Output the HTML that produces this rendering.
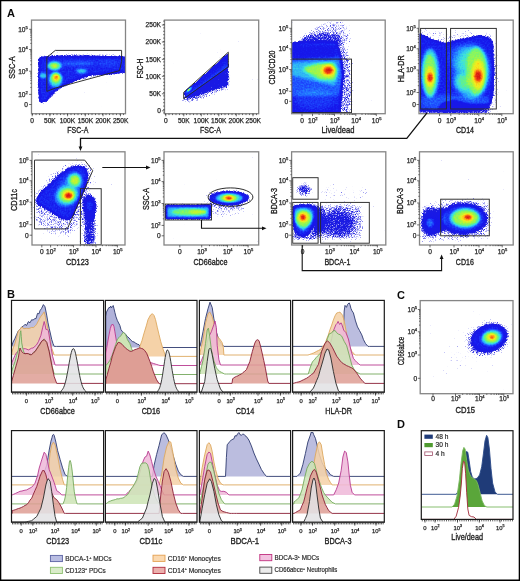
<!DOCTYPE html>
<html><head><meta charset="utf-8"><title>Figure</title>
<style>
html,body{margin:0;padding:0;background:#fff;}
body{width:520px;height:581px;overflow:hidden;}
svg{display:block;font-family:"Liberation Sans", sans-serif;will-change:transform;}
</style></head><body>
<svg width="520" height="581" viewBox="0 0 520 581">
<defs><radialGradient id="gg"><stop offset="0" stop-color="#fff" stop-opacity="1"/><stop offset="0.2" stop-color="#fff" stop-opacity="0.887"/><stop offset="0.4" stop-color="#fff" stop-opacity="0.62"/><stop offset="0.6" stop-color="#fff" stop-opacity="0.34"/><stop offset="0.8" stop-color="#fff" stop-opacity="0.14"/><stop offset="1" stop-color="#fff" stop-opacity="0"/></radialGradient><filter id="pc0" x="0" y="0" width="520" height="581" filterUnits="userSpaceOnUse" color-interpolation-filters="sRGB">
<feColorMatrix in="SourceGraphic" type="matrix" values="0 0 0 1 0 0 0 0 1 0 0 0 0 1 0 0 0 0 0 1" result="d0"/>
<feTurbulence type="fractalNoise" baseFrequency="0.63" numOctaves="1" seed="13" result="cz"/>
<feColorMatrix in="cz" type="matrix" values="1 0 0 0 0 1 0 0 0 0 1 0 0 0 0 0 0 0 0 1" result="cn"/>
<feComposite in="d0" in2="cn" operator="arithmetic" k1="0" k2="1" k3="0.12" k4="-0.06" result="d"/>
<feComponentTransfer in="d" result="col"><feFuncR type="table" tableValues="0.118 0.114 0.110 0.107 0.103 0.099 0.096 0.092 0.088 0.090 0.098 0.106 0.114 0.122 0.131 0.139 0.148 0.157 0.173 0.188 0.204 0.220 0.235 0.275 0.314 0.353 0.392 0.431 0.494 0.557 0.620 0.682 0.745 0.788 0.831 0.875 0.918 0.961 0.969 0.976 0.984 0.992 1.000 0.990 0.980 0.971 0.961 0.931 0.902 0.873 0.843"/><feFuncG type="table" tableValues="0.118 0.114 0.110 0.107 0.103 0.099 0.096 0.092 0.088 0.112 0.164 0.216 0.268 0.331 0.405 0.479 0.553 0.627 0.678 0.729 0.780 0.831 0.882 0.898 0.914 0.929 0.945 0.961 0.961 0.961 0.961 0.961 0.961 0.953 0.945 0.937 0.929 0.922 0.863 0.804 0.745 0.686 0.627 0.549 0.471 0.392 0.314 0.260 0.206 0.152 0.098"/><feFuncB type="table" tableValues="0.863 0.870 0.878 0.885 0.892 0.900 0.907 0.914 0.922 0.935 0.953 0.972 0.991 1.000 1.000 1.000 1.000 1.000 0.976 0.953 0.929 0.906 0.882 0.800 0.718 0.635 0.553 0.471 0.416 0.361 0.306 0.251 0.196 0.180 0.165 0.149 0.133 0.118 0.110 0.102 0.094 0.086 0.078 0.078 0.078 0.078 0.078 0.078 0.078 0.078 0.078"/></feComponentTransfer>
<feTurbulence type="fractalNoise" baseFrequency="1.37" numOctaves="1" seed="8" result="nz"/>
<feColorMatrix in="nz" type="matrix" values="0 0 0 0 0 0 0 0 0 0 0 0 0 0 0 1 0 0 0 0" result="na"/>
<feComposite in="SourceAlpha" in2="na" operator="arithmetic" k1="0" k2="14.0" k3="1.6" k4="-1.0" result="m"/>
<feComponentTransfer in="m" result="mask"><feFuncA type="table" tableValues="0 0 0.55 1 1"/></feComponentTransfer>
<feComposite in="col" in2="mask" operator="in"/>
</filter><clipPath id="c0"><rect x="31.5" y="20.1" width="94.0" height="93.6"/></clipPath><filter id="b0" x="-50%" y="-50%" width="200%" height="200%"><feGaussianBlur stdDeviation="1.5"/></filter><filter id="b1" x="-50%" y="-50%" width="200%" height="200%"><feGaussianBlur stdDeviation="0.8"/></filter><filter id="b2" x="-50%" y="-50%" width="200%" height="200%"><feGaussianBlur stdDeviation="2"/></filter><filter id="b3" x="-50%" y="-50%" width="200%" height="200%"><feGaussianBlur stdDeviation="1.0"/></filter><filter id="b4" x="-50%" y="-50%" width="200%" height="200%"><feGaussianBlur stdDeviation="1.1"/></filter><filter id="pc1" x="0" y="0" width="520" height="581" filterUnits="userSpaceOnUse" color-interpolation-filters="sRGB">
<feColorMatrix in="SourceGraphic" type="matrix" values="0 0 0 1 0 0 0 0 1 0 0 0 0 1 0 0 0 0 0 1" result="d0"/>
<feTurbulence type="fractalNoise" baseFrequency="0.63" numOctaves="1" seed="20" result="cz"/>
<feColorMatrix in="cz" type="matrix" values="1 0 0 0 0 1 0 0 0 0 1 0 0 0 0 0 0 0 0 1" result="cn"/>
<feComposite in="d0" in2="cn" operator="arithmetic" k1="0" k2="1" k3="0.12" k4="-0.06" result="d"/>
<feComponentTransfer in="d" result="col"><feFuncR type="table" tableValues="0.118 0.114 0.110 0.107 0.103 0.099 0.096 0.092 0.088 0.090 0.098 0.106 0.114 0.122 0.131 0.139 0.148 0.157 0.173 0.188 0.204 0.220 0.235 0.275 0.314 0.353 0.392 0.431 0.494 0.557 0.620 0.682 0.745 0.788 0.831 0.875 0.918 0.961 0.969 0.976 0.984 0.992 1.000 0.990 0.980 0.971 0.961 0.931 0.902 0.873 0.843"/><feFuncG type="table" tableValues="0.118 0.114 0.110 0.107 0.103 0.099 0.096 0.092 0.088 0.112 0.164 0.216 0.268 0.331 0.405 0.479 0.553 0.627 0.678 0.729 0.780 0.831 0.882 0.898 0.914 0.929 0.945 0.961 0.961 0.961 0.961 0.961 0.961 0.953 0.945 0.937 0.929 0.922 0.863 0.804 0.745 0.686 0.627 0.549 0.471 0.392 0.314 0.260 0.206 0.152 0.098"/><feFuncB type="table" tableValues="0.863 0.870 0.878 0.885 0.892 0.900 0.907 0.914 0.922 0.935 0.953 0.972 0.991 1.000 1.000 1.000 1.000 1.000 0.976 0.953 0.929 0.906 0.882 0.800 0.718 0.635 0.553 0.471 0.416 0.361 0.306 0.251 0.196 0.180 0.165 0.149 0.133 0.118 0.110 0.102 0.094 0.086 0.078 0.078 0.078 0.078 0.078 0.078 0.078 0.078 0.078"/></feComponentTransfer>
<feTurbulence type="fractalNoise" baseFrequency="1.37" numOctaves="1" seed="15" result="nz"/>
<feColorMatrix in="nz" type="matrix" values="0 0 0 0 0 0 0 0 0 0 0 0 0 0 0 1 0 0 0 0" result="na"/>
<feComposite in="SourceAlpha" in2="na" operator="arithmetic" k1="0" k2="14.0" k3="1.6" k4="-1.0" result="m"/>
<feComponentTransfer in="m" result="mask"><feFuncA type="table" tableValues="0 0 0.55 1 1"/></feComponentTransfer>
<feComposite in="col" in2="mask" operator="in"/>
</filter><clipPath id="c1"><rect x="164.5" y="20.1" width="94.19999999999999" height="93.6"/></clipPath><filter id="b5" x="-50%" y="-50%" width="200%" height="200%"><feGaussianBlur stdDeviation="1.2"/></filter><filter id="b6" x="-50%" y="-50%" width="200%" height="200%"><feGaussianBlur stdDeviation="0.6"/></filter><filter id="pc2" x="0" y="0" width="520" height="581" filterUnits="userSpaceOnUse" color-interpolation-filters="sRGB">
<feColorMatrix in="SourceGraphic" type="matrix" values="0 0 0 1 0 0 0 0 1 0 0 0 0 1 0 0 0 0 0 1" result="d0"/>
<feTurbulence type="fractalNoise" baseFrequency="0.63" numOctaves="1" seed="27" result="cz"/>
<feColorMatrix in="cz" type="matrix" values="1 0 0 0 0 1 0 0 0 0 1 0 0 0 0 0 0 0 0 1" result="cn"/>
<feComposite in="d0" in2="cn" operator="arithmetic" k1="0" k2="1" k3="0.12" k4="-0.06" result="d"/>
<feComponentTransfer in="d" result="col"><feFuncR type="table" tableValues="0.118 0.114 0.110 0.107 0.103 0.099 0.096 0.092 0.088 0.090 0.098 0.106 0.114 0.122 0.131 0.139 0.148 0.157 0.173 0.188 0.204 0.220 0.235 0.275 0.314 0.353 0.392 0.431 0.494 0.557 0.620 0.682 0.745 0.788 0.831 0.875 0.918 0.961 0.969 0.976 0.984 0.992 1.000 0.990 0.980 0.971 0.961 0.931 0.902 0.873 0.843"/><feFuncG type="table" tableValues="0.118 0.114 0.110 0.107 0.103 0.099 0.096 0.092 0.088 0.112 0.164 0.216 0.268 0.331 0.405 0.479 0.553 0.627 0.678 0.729 0.780 0.831 0.882 0.898 0.914 0.929 0.945 0.961 0.961 0.961 0.961 0.961 0.961 0.953 0.945 0.937 0.929 0.922 0.863 0.804 0.745 0.686 0.627 0.549 0.471 0.392 0.314 0.260 0.206 0.152 0.098"/><feFuncB type="table" tableValues="0.863 0.870 0.878 0.885 0.892 0.900 0.907 0.914 0.922 0.935 0.953 0.972 0.991 1.000 1.000 1.000 1.000 1.000 0.976 0.953 0.929 0.906 0.882 0.800 0.718 0.635 0.553 0.471 0.416 0.361 0.306 0.251 0.196 0.180 0.165 0.149 0.133 0.118 0.110 0.102 0.094 0.086 0.078 0.078 0.078 0.078 0.078 0.078 0.078 0.078 0.078"/></feComponentTransfer>
<feTurbulence type="fractalNoise" baseFrequency="1.37" numOctaves="1" seed="22" result="nz"/>
<feColorMatrix in="nz" type="matrix" values="0 0 0 0 0 0 0 0 0 0 0 0 0 0 0 1 0 0 0 0" result="na"/>
<feComposite in="SourceAlpha" in2="na" operator="arithmetic" k1="0" k2="14.0" k3="1.6" k4="-1.0" result="m"/>
<feComponentTransfer in="m" result="mask"><feFuncA type="table" tableValues="0 0 0.55 1 1"/></feComponentTransfer>
<feComposite in="col" in2="mask" operator="in"/>
</filter><clipPath id="c2"><rect x="291.6" y="20.1" width="93.59999999999997" height="93.6"/></clipPath><filter id="b7" x="-50%" y="-50%" width="200%" height="200%"><feGaussianBlur stdDeviation="2.5"/></filter><filter id="b8" x="-50%" y="-50%" width="200%" height="200%"><feGaussianBlur stdDeviation="3"/></filter><filter id="pc3" x="0" y="0" width="520" height="581" filterUnits="userSpaceOnUse" color-interpolation-filters="sRGB">
<feColorMatrix in="SourceGraphic" type="matrix" values="0 0 0 1 0 0 0 0 1 0 0 0 0 1 0 0 0 0 0 1" result="d0"/>
<feTurbulence type="fractalNoise" baseFrequency="0.63" numOctaves="1" seed="34" result="cz"/>
<feColorMatrix in="cz" type="matrix" values="1 0 0 0 0 1 0 0 0 0 1 0 0 0 0 0 0 0 0 1" result="cn"/>
<feComposite in="d0" in2="cn" operator="arithmetic" k1="0" k2="1" k3="0.12" k4="-0.06" result="d"/>
<feComponentTransfer in="d" result="col"><feFuncR type="table" tableValues="0.118 0.114 0.110 0.107 0.103 0.099 0.096 0.092 0.088 0.090 0.098 0.106 0.114 0.122 0.131 0.139 0.148 0.157 0.173 0.188 0.204 0.220 0.235 0.275 0.314 0.353 0.392 0.431 0.494 0.557 0.620 0.682 0.745 0.788 0.831 0.875 0.918 0.961 0.969 0.976 0.984 0.992 1.000 0.990 0.980 0.971 0.961 0.931 0.902 0.873 0.843"/><feFuncG type="table" tableValues="0.118 0.114 0.110 0.107 0.103 0.099 0.096 0.092 0.088 0.112 0.164 0.216 0.268 0.331 0.405 0.479 0.553 0.627 0.678 0.729 0.780 0.831 0.882 0.898 0.914 0.929 0.945 0.961 0.961 0.961 0.961 0.961 0.961 0.953 0.945 0.937 0.929 0.922 0.863 0.804 0.745 0.686 0.627 0.549 0.471 0.392 0.314 0.260 0.206 0.152 0.098"/><feFuncB type="table" tableValues="0.863 0.870 0.878 0.885 0.892 0.900 0.907 0.914 0.922 0.935 0.953 0.972 0.991 1.000 1.000 1.000 1.000 1.000 0.976 0.953 0.929 0.906 0.882 0.800 0.718 0.635 0.553 0.471 0.416 0.361 0.306 0.251 0.196 0.180 0.165 0.149 0.133 0.118 0.110 0.102 0.094 0.086 0.078 0.078 0.078 0.078 0.078 0.078 0.078 0.078 0.078"/></feComponentTransfer>
<feTurbulence type="fractalNoise" baseFrequency="1.37" numOctaves="1" seed="29" result="nz"/>
<feColorMatrix in="nz" type="matrix" values="0 0 0 0 0 0 0 0 0 0 0 0 0 0 0 1 0 0 0 0" result="na"/>
<feComposite in="SourceAlpha" in2="na" operator="arithmetic" k1="0" k2="14.0" k3="1.6" k4="-1.0" result="m"/>
<feComponentTransfer in="m" result="mask"><feFuncA type="table" tableValues="0 0 0.55 1 1"/></feComponentTransfer>
<feComposite in="col" in2="mask" operator="in"/>
</filter><clipPath id="c3"><rect x="419.0" y="20.1" width="94.20000000000005" height="93.6"/></clipPath><filter id="pc4" x="0" y="0" width="520" height="581" filterUnits="userSpaceOnUse" color-interpolation-filters="sRGB">
<feColorMatrix in="SourceGraphic" type="matrix" values="0 0 0 1 0 0 0 0 1 0 0 0 0 1 0 0 0 0 0 1" result="d0"/>
<feTurbulence type="fractalNoise" baseFrequency="0.63" numOctaves="1" seed="41" result="cz"/>
<feColorMatrix in="cz" type="matrix" values="1 0 0 0 0 1 0 0 0 0 1 0 0 0 0 0 0 0 0 1" result="cn"/>
<feComposite in="d0" in2="cn" operator="arithmetic" k1="0" k2="1" k3="0.12" k4="-0.06" result="d"/>
<feComponentTransfer in="d" result="col"><feFuncR type="table" tableValues="0.118 0.114 0.110 0.107 0.103 0.099 0.096 0.092 0.088 0.090 0.098 0.106 0.114 0.122 0.131 0.139 0.148 0.157 0.173 0.188 0.204 0.220 0.235 0.275 0.314 0.353 0.392 0.431 0.494 0.557 0.620 0.682 0.745 0.788 0.831 0.875 0.918 0.961 0.969 0.976 0.984 0.992 1.000 0.990 0.980 0.971 0.961 0.931 0.902 0.873 0.843"/><feFuncG type="table" tableValues="0.118 0.114 0.110 0.107 0.103 0.099 0.096 0.092 0.088 0.112 0.164 0.216 0.268 0.331 0.405 0.479 0.553 0.627 0.678 0.729 0.780 0.831 0.882 0.898 0.914 0.929 0.945 0.961 0.961 0.961 0.961 0.961 0.961 0.953 0.945 0.937 0.929 0.922 0.863 0.804 0.745 0.686 0.627 0.549 0.471 0.392 0.314 0.260 0.206 0.152 0.098"/><feFuncB type="table" tableValues="0.863 0.870 0.878 0.885 0.892 0.900 0.907 0.914 0.922 0.935 0.953 0.972 0.991 1.000 1.000 1.000 1.000 1.000 0.976 0.953 0.929 0.906 0.882 0.800 0.718 0.635 0.553 0.471 0.416 0.361 0.306 0.251 0.196 0.180 0.165 0.149 0.133 0.118 0.110 0.102 0.094 0.086 0.078 0.078 0.078 0.078 0.078 0.078 0.078 0.078 0.078"/></feComponentTransfer>
<feTurbulence type="fractalNoise" baseFrequency="1.37" numOctaves="1" seed="36" result="nz"/>
<feColorMatrix in="nz" type="matrix" values="0 0 0 0 0 0 0 0 0 0 0 0 0 0 0 1 0 0 0 0" result="na"/>
<feComposite in="SourceAlpha" in2="na" operator="arithmetic" k1="0" k2="14.0" k3="1.6" k4="-1.0" result="m"/>
<feComponentTransfer in="m" result="mask"><feFuncA type="table" tableValues="0 0 0.55 1 1"/></feComponentTransfer>
<feComposite in="col" in2="mask" operator="in"/>
</filter><clipPath id="c4"><rect x="32.0" y="151.8" width="93.0" height="93.19999999999999"/></clipPath><filter id="pc5" x="0" y="0" width="520" height="581" filterUnits="userSpaceOnUse" color-interpolation-filters="sRGB">
<feColorMatrix in="SourceGraphic" type="matrix" values="0 0 0 1 0 0 0 0 1 0 0 0 0 1 0 0 0 0 0 1" result="d0"/>
<feTurbulence type="fractalNoise" baseFrequency="0.63" numOctaves="1" seed="48" result="cz"/>
<feColorMatrix in="cz" type="matrix" values="1 0 0 0 0 1 0 0 0 0 1 0 0 0 0 0 0 0 0 1" result="cn"/>
<feComposite in="d0" in2="cn" operator="arithmetic" k1="0" k2="1" k3="0.12" k4="-0.06" result="d"/>
<feComponentTransfer in="d" result="col"><feFuncR type="table" tableValues="0.118 0.114 0.110 0.107 0.103 0.099 0.096 0.092 0.088 0.090 0.098 0.106 0.114 0.122 0.131 0.139 0.148 0.157 0.173 0.188 0.204 0.220 0.235 0.275 0.314 0.353 0.392 0.431 0.494 0.557 0.620 0.682 0.745 0.788 0.831 0.875 0.918 0.961 0.969 0.976 0.984 0.992 1.000 0.990 0.980 0.971 0.961 0.931 0.902 0.873 0.843"/><feFuncG type="table" tableValues="0.118 0.114 0.110 0.107 0.103 0.099 0.096 0.092 0.088 0.112 0.164 0.216 0.268 0.331 0.405 0.479 0.553 0.627 0.678 0.729 0.780 0.831 0.882 0.898 0.914 0.929 0.945 0.961 0.961 0.961 0.961 0.961 0.961 0.953 0.945 0.937 0.929 0.922 0.863 0.804 0.745 0.686 0.627 0.549 0.471 0.392 0.314 0.260 0.206 0.152 0.098"/><feFuncB type="table" tableValues="0.863 0.870 0.878 0.885 0.892 0.900 0.907 0.914 0.922 0.935 0.953 0.972 0.991 1.000 1.000 1.000 1.000 1.000 0.976 0.953 0.929 0.906 0.882 0.800 0.718 0.635 0.553 0.471 0.416 0.361 0.306 0.251 0.196 0.180 0.165 0.149 0.133 0.118 0.110 0.102 0.094 0.086 0.078 0.078 0.078 0.078 0.078 0.078 0.078 0.078 0.078"/></feComponentTransfer>
<feTurbulence type="fractalNoise" baseFrequency="1.37" numOctaves="1" seed="43" result="nz"/>
<feColorMatrix in="nz" type="matrix" values="0 0 0 0 0 0 0 0 0 0 0 0 0 0 0 1 0 0 0 0" result="na"/>
<feComposite in="SourceAlpha" in2="na" operator="arithmetic" k1="0" k2="14.0" k3="1.6" k4="-1.0" result="m"/>
<feComponentTransfer in="m" result="mask"><feFuncA type="table" tableValues="0 0 0.55 1 1"/></feComponentTransfer>
<feComposite in="col" in2="mask" operator="in"/>
</filter><clipPath id="c5"><rect x="164.0" y="151.8" width="94.69999999999999" height="93.19999999999999"/></clipPath><filter id="pc6" x="0" y="0" width="520" height="581" filterUnits="userSpaceOnUse" color-interpolation-filters="sRGB">
<feColorMatrix in="SourceGraphic" type="matrix" values="0 0 0 1 0 0 0 0 1 0 0 0 0 1 0 0 0 0 0 1" result="d0"/>
<feTurbulence type="fractalNoise" baseFrequency="0.63" numOctaves="1" seed="55" result="cz"/>
<feColorMatrix in="cz" type="matrix" values="1 0 0 0 0 1 0 0 0 0 1 0 0 0 0 0 0 0 0 1" result="cn"/>
<feComposite in="d0" in2="cn" operator="arithmetic" k1="0" k2="1" k3="0.12" k4="-0.06" result="d"/>
<feComponentTransfer in="d" result="col"><feFuncR type="table" tableValues="0.118 0.114 0.110 0.107 0.103 0.099 0.096 0.092 0.088 0.090 0.098 0.106 0.114 0.122 0.131 0.139 0.148 0.157 0.173 0.188 0.204 0.220 0.235 0.275 0.314 0.353 0.392 0.431 0.494 0.557 0.620 0.682 0.745 0.788 0.831 0.875 0.918 0.961 0.969 0.976 0.984 0.992 1.000 0.990 0.980 0.971 0.961 0.931 0.902 0.873 0.843"/><feFuncG type="table" tableValues="0.118 0.114 0.110 0.107 0.103 0.099 0.096 0.092 0.088 0.112 0.164 0.216 0.268 0.331 0.405 0.479 0.553 0.627 0.678 0.729 0.780 0.831 0.882 0.898 0.914 0.929 0.945 0.961 0.961 0.961 0.961 0.961 0.961 0.953 0.945 0.937 0.929 0.922 0.863 0.804 0.745 0.686 0.627 0.549 0.471 0.392 0.314 0.260 0.206 0.152 0.098"/><feFuncB type="table" tableValues="0.863 0.870 0.878 0.885 0.892 0.900 0.907 0.914 0.922 0.935 0.953 0.972 0.991 1.000 1.000 1.000 1.000 1.000 0.976 0.953 0.929 0.906 0.882 0.800 0.718 0.635 0.553 0.471 0.416 0.361 0.306 0.251 0.196 0.180 0.165 0.149 0.133 0.118 0.110 0.102 0.094 0.086 0.078 0.078 0.078 0.078 0.078 0.078 0.078 0.078 0.078"/></feComponentTransfer>
<feTurbulence type="fractalNoise" baseFrequency="1.37" numOctaves="1" seed="50" result="nz"/>
<feColorMatrix in="nz" type="matrix" values="0 0 0 0 0 0 0 0 0 0 0 0 0 0 0 1 0 0 0 0" result="na"/>
<feComposite in="SourceAlpha" in2="na" operator="arithmetic" k1="0" k2="14.0" k3="1.6" k4="-1.0" result="m"/>
<feComponentTransfer in="m" result="mask"><feFuncA type="table" tableValues="0 0 0.55 1 1"/></feComponentTransfer>
<feComposite in="col" in2="mask" operator="in"/>
</filter><clipPath id="c6"><rect x="291.6" y="151.8" width="94.19999999999999" height="93.19999999999999"/></clipPath><filter id="pc7" x="0" y="0" width="520" height="581" filterUnits="userSpaceOnUse" color-interpolation-filters="sRGB">
<feColorMatrix in="SourceGraphic" type="matrix" values="0 0 0 1 0 0 0 0 1 0 0 0 0 1 0 0 0 0 0 1" result="d0"/>
<feTurbulence type="fractalNoise" baseFrequency="0.63" numOctaves="1" seed="62" result="cz"/>
<feColorMatrix in="cz" type="matrix" values="1 0 0 0 0 1 0 0 0 0 1 0 0 0 0 0 0 0 0 1" result="cn"/>
<feComposite in="d0" in2="cn" operator="arithmetic" k1="0" k2="1" k3="0.12" k4="-0.06" result="d"/>
<feComponentTransfer in="d" result="col"><feFuncR type="table" tableValues="0.118 0.114 0.110 0.107 0.103 0.099 0.096 0.092 0.088 0.090 0.098 0.106 0.114 0.122 0.131 0.139 0.148 0.157 0.173 0.188 0.204 0.220 0.235 0.275 0.314 0.353 0.392 0.431 0.494 0.557 0.620 0.682 0.745 0.788 0.831 0.875 0.918 0.961 0.969 0.976 0.984 0.992 1.000 0.990 0.980 0.971 0.961 0.931 0.902 0.873 0.843"/><feFuncG type="table" tableValues="0.118 0.114 0.110 0.107 0.103 0.099 0.096 0.092 0.088 0.112 0.164 0.216 0.268 0.331 0.405 0.479 0.553 0.627 0.678 0.729 0.780 0.831 0.882 0.898 0.914 0.929 0.945 0.961 0.961 0.961 0.961 0.961 0.961 0.953 0.945 0.937 0.929 0.922 0.863 0.804 0.745 0.686 0.627 0.549 0.471 0.392 0.314 0.260 0.206 0.152 0.098"/><feFuncB type="table" tableValues="0.863 0.870 0.878 0.885 0.892 0.900 0.907 0.914 0.922 0.935 0.953 0.972 0.991 1.000 1.000 1.000 1.000 1.000 0.976 0.953 0.929 0.906 0.882 0.800 0.718 0.635 0.553 0.471 0.416 0.361 0.306 0.251 0.196 0.180 0.165 0.149 0.133 0.118 0.110 0.102 0.094 0.086 0.078 0.078 0.078 0.078 0.078 0.078 0.078 0.078 0.078"/></feComponentTransfer>
<feTurbulence type="fractalNoise" baseFrequency="1.37" numOctaves="1" seed="57" result="nz"/>
<feColorMatrix in="nz" type="matrix" values="0 0 0 0 0 0 0 0 0 0 0 0 0 0 0 1 0 0 0 0" result="na"/>
<feComposite in="SourceAlpha" in2="na" operator="arithmetic" k1="0" k2="14.0" k3="1.6" k4="-1.0" result="m"/>
<feComponentTransfer in="m" result="mask"><feFuncA type="table" tableValues="0 0 0.55 1 1"/></feComponentTransfer>
<feComposite in="col" in2="mask" operator="in"/>
</filter><clipPath id="c7"><rect x="419.5" y="151.8" width="93.70000000000005" height="93.19999999999999"/></clipPath><filter id="b9" x="-50%" y="-50%" width="200%" height="200%"><feGaussianBlur stdDeviation="1.3"/></filter><filter id="pc8" x="0" y="0" width="520" height="581" filterUnits="userSpaceOnUse" color-interpolation-filters="sRGB">
<feColorMatrix in="SourceGraphic" type="matrix" values="0 0 0 1 0 0 0 0 1 0 0 0 0 1 0 0 0 0 0 1" result="d0"/>
<feTurbulence type="fractalNoise" baseFrequency="0.63" numOctaves="1" seed="69" result="cz"/>
<feColorMatrix in="cz" type="matrix" values="1 0 0 0 0 1 0 0 0 0 1 0 0 0 0 0 0 0 0 1" result="cn"/>
<feComposite in="d0" in2="cn" operator="arithmetic" k1="0" k2="1" k3="0.12" k4="-0.06" result="d"/>
<feComponentTransfer in="d" result="col"><feFuncR type="table" tableValues="0.118 0.114 0.110 0.107 0.103 0.099 0.096 0.092 0.088 0.090 0.098 0.106 0.114 0.122 0.131 0.139 0.148 0.157 0.173 0.188 0.204 0.220 0.235 0.275 0.314 0.353 0.392 0.431 0.494 0.557 0.620 0.682 0.745 0.788 0.831 0.875 0.918 0.961 0.969 0.976 0.984 0.992 1.000 0.990 0.980 0.971 0.961 0.931 0.902 0.873 0.843"/><feFuncG type="table" tableValues="0.118 0.114 0.110 0.107 0.103 0.099 0.096 0.092 0.088 0.112 0.164 0.216 0.268 0.331 0.405 0.479 0.553 0.627 0.678 0.729 0.780 0.831 0.882 0.898 0.914 0.929 0.945 0.961 0.961 0.961 0.961 0.961 0.961 0.953 0.945 0.937 0.929 0.922 0.863 0.804 0.745 0.686 0.627 0.549 0.471 0.392 0.314 0.260 0.206 0.152 0.098"/><feFuncB type="table" tableValues="0.863 0.870 0.878 0.885 0.892 0.900 0.907 0.914 0.922 0.935 0.953 0.972 0.991 1.000 1.000 1.000 1.000 1.000 0.976 0.953 0.929 0.906 0.882 0.800 0.718 0.635 0.553 0.471 0.416 0.361 0.306 0.251 0.196 0.180 0.165 0.149 0.133 0.118 0.110 0.102 0.094 0.086 0.078 0.078 0.078 0.078 0.078 0.078 0.078 0.078 0.078"/></feComponentTransfer>
<feTurbulence type="fractalNoise" baseFrequency="1.37" numOctaves="1" seed="64" result="nz"/>
<feColorMatrix in="nz" type="matrix" values="0 0 0 0 0 0 0 0 0 0 0 0 0 0 0 1 0 0 0 0" result="na"/>
<feComposite in="SourceAlpha" in2="na" operator="arithmetic" k1="0" k2="14.0" k3="1.6" k4="-1.0" result="m"/>
<feComponentTransfer in="m" result="mask"><feFuncA type="table" tableValues="0 0 0.55 1 1"/></feComponentTransfer>
<feComposite in="col" in2="mask" operator="in"/>
</filter><clipPath id="c8"><rect x="420.2" y="300.6" width="92.80000000000001" height="93.09999999999997"/></clipPath><filter id="b10" x="-50%" y="-50%" width="200%" height="200%"><feGaussianBlur stdDeviation="4"/></filter><clipPath id="c9"><rect x="11.5" y="300.4" width="92.1" height="92.30000000000001"/></clipPath><clipPath id="c10"><rect x="105.4" y="300.4" width="91.6" height="92.30000000000001"/></clipPath><clipPath id="c11"><rect x="199.4" y="300.4" width="91.20000000000002" height="92.30000000000001"/></clipPath><clipPath id="c12"><rect x="292.6" y="300.4" width="91.69999999999999" height="92.30000000000001"/></clipPath><clipPath id="c13"><rect x="11.5" y="430.6" width="92.1" height="92.10000000000002"/></clipPath><clipPath id="c14"><rect x="105.4" y="430.6" width="91.6" height="92.10000000000002"/></clipPath><clipPath id="c15"><rect x="199.4" y="430.6" width="91.20000000000002" height="92.10000000000002"/></clipPath><clipPath id="c16"><rect x="292.6" y="430.6" width="91.69999999999999" height="92.10000000000002"/></clipPath><clipPath id="c17"><rect x="421.3" y="430.7" width="91.69999999999999" height="89.69999999999999"/></clipPath></defs>
<rect width="520" height="581" fill="#fff"/>
<text x="7.0" y="17.2" font-size="11.0" text-anchor="start" font-weight="bold" fill="#0a0a0a">A</text>
<g clip-path="url(#c0)"><g filter="url(#pc0)">
<path d="M38.0,56.0 L60.0,53.5 L100.0,54.0 L127.0,55.0 L127.0,74.0 L100.0,76.5 L80.0,80.0 L60.0,90.0 L50.0,99.0 L44.0,104.0 L38.0,104.0 Z" fill="#fff" opacity="0.035" filter="url(#b0)"/>
<path d="M39.5,58.0 L50.0,57.0 L70.0,56.5 L100.0,57.0 L126.0,57.5 L126.0,71.5 L110.0,73.5 L100.0,74.0 L92.0,74.0 L75.0,80.0 L60.0,87.0 L55.0,91.0 L50.0,96.0 L46.0,101.0 L40.0,101.5 L39.0,90.0 Z" fill="#fff" opacity="0.160" filter="url(#b1)"/>
<ellipse cx="78.0" cy="63.5" rx="17.0" ry="2.3" fill="#fff" opacity="0.100" filter="url(#b0)"/>
<ellipse cx="108.0" cy="63.0" rx="12.0" ry="3.0" fill="#fff" opacity="0.060" filter="url(#b2)"/>
<ellipse cx="43.0" cy="75.6" rx="3.8" ry="2.6" fill="#fff" opacity="0.262" filter="url(#b3)"/>
<ellipse cx="81.6" cy="71.0" rx="5.5" ry="2.2" fill="#fff" opacity="0.262" filter="url(#b3)"/>
<ellipse cx="54.5" cy="65.8" rx="7.5" ry="4.6" fill="#fff" opacity="0.262" filter="url(#b4)"/>
<ellipse cx="54.5" cy="65.8" rx="5.0" ry="3.1" fill="#fff" opacity="0.290" filter="url(#b4)"/>
<ellipse cx="54.5" cy="66.0" rx="2.6" ry="1.7" fill="#fff" opacity="0.205" filter="url(#b4)"/>
<ellipse cx="55.6" cy="79.5" rx="6.8" ry="7.8" fill="#fff" opacity="0.262" filter="url(#b3)"/>
<ellipse cx="55.9" cy="78.3" rx="5.0" ry="5.3" fill="#fff" opacity="0.290" filter="url(#b3)"/>
<ellipse cx="56.2" cy="77.6" rx="3.2" ry="3.2" fill="#fff" opacity="0.409" filter="url(#b3)"/>
<ellipse cx="56.2" cy="77.4" rx="1.4" ry="1.4" fill="#fff" opacity="1.000" filter="url(#b3)"/>
</g></g>
<path d="M46.8,91.4 L46.8,57.4 L55.3,50.4 L121.6,50.4 L121.6,61.5 L119.5,70.6 L55.3,88.1 Z" fill="none" stroke="#2a2a2a" stroke-width="0.95"/>
<rect x="31.50" y="20.10" width="94.00" height="93.60" fill="none" stroke="#858585" stroke-width="1.3"/>
<path d="M31.5,29.3h-2.4M31.5,49.5h-2.4M31.5,71.2h-2.4M31.5,94.4h-2.4M31.5,104.5h-2.4M31.5,87.4h-1.2M31.5,83.3h-1.2M31.5,80.4h-1.2M31.5,78.2h-1.2M31.5,76.3h-1.2M31.5,74.8h-1.2M31.5,73.4h-1.2M31.5,72.3h-1.2M31.5,64.7h-1.2M31.5,60.8h-1.2M31.5,58.1h-1.2M31.5,56.0h-1.2M31.5,54.3h-1.2M31.5,52.9h-1.2M31.5,51.6h-1.2M31.5,50.5h-1.2M31.5,43.4h-1.2M31.5,39.9h-1.2M31.5,37.3h-1.2M31.5,35.4h-1.2M31.5,33.8h-1.2M31.5,32.4h-1.2M31.5,31.3h-1.2M31.5,30.2h-1.2" stroke="#333" stroke-width="0.7" fill="none"/>
<path d="M32.2,113.7v2.6M49.9,113.7v2.6M67.6,113.7v2.6M85.3,113.7v2.6M103.0,113.7v2.6M120.5,113.7v2.6M32.5,113.7v1.4M36.0,113.7v1.4M39.5,113.7v1.4M43.0,113.7v1.4M46.5,113.7v1.4M50.0,113.7v1.4M53.5,113.7v1.4M57.0,113.7v1.4M60.5,113.7v1.4M64.0,113.7v1.4M67.5,113.7v1.4M71.0,113.7v1.4M74.5,113.7v1.4M78.0,113.7v1.4M81.5,113.7v1.4M85.0,113.7v1.4M88.5,113.7v1.4M92.0,113.7v1.4M95.5,113.7v1.4M99.0,113.7v1.4M102.5,113.7v1.4M106.0,113.7v1.4M109.5,113.7v1.4M113.0,113.7v1.4M116.5,113.7v1.4M120.0,113.7v1.4M123.5,113.7v1.4" stroke="#333" stroke-width="0.7" fill="none"/>
<text x="18.2" y="31.7" font-size="6.6" fill="#262626" stroke="#262626" stroke-width="0.25">10<tspan font-size="4.1" dy="-3.0">5</tspan></text>
<text x="18.2" y="51.9" font-size="6.6" fill="#262626" stroke="#262626" stroke-width="0.25">10<tspan font-size="4.1" dy="-3.0">4</tspan></text>
<text x="18.2" y="73.6" font-size="6.6" fill="#262626" stroke="#262626" stroke-width="0.25">10<tspan font-size="4.1" dy="-3.0">3</tspan></text>
<text x="18.2" y="96.8" font-size="6.6" fill="#262626" stroke="#262626" stroke-width="0.25">10<tspan font-size="4.1" dy="-3.0">2</tspan></text>
<text x="27.8" y="106.9" font-size="6.6" text-anchor="end" font-weight="normal" fill="#262626" stroke="#262626" stroke-width="0.25">0</text>
<text x="32.2" y="122.9" font-size="6.6" text-anchor="middle" font-weight="normal" fill="#262626" stroke="#262626" stroke-width="0.25">0</text>
<text x="49.9" y="122.9" font-size="6.6" text-anchor="middle" font-weight="normal" fill="#262626" stroke="#262626" stroke-width="0.25">50K</text>
<text x="67.4" y="122.9" font-size="6.6" text-anchor="middle" font-weight="normal" fill="#262626" stroke="#262626" stroke-width="0.25">100K</text>
<text x="85.4" y="122.9" font-size="6.6" text-anchor="middle" font-weight="normal" fill="#262626" stroke="#262626" stroke-width="0.25">150K</text>
<text x="103.1" y="122.9" font-size="6.6" text-anchor="middle" font-weight="normal" fill="#262626" stroke="#262626" stroke-width="0.25">200K</text>
<text x="120.6" y="122.9" font-size="6.6" text-anchor="middle" font-weight="normal" fill="#262626" stroke="#262626" stroke-width="0.25">250K</text>
<text x="77.8" y="132.8" font-size="9.6" text-anchor="middle" font-weight="normal" fill="#1e1e1e" textLength="21.0" lengthAdjust="spacingAndGlyphs" stroke="#1e1e1e" stroke-width="0.35">FSC-A</text>
<text x="15.3" y="67.6" font-size="9.6" text-anchor="middle" font-weight="normal" fill="#1e1e1e" textLength="22.5" lengthAdjust="spacingAndGlyphs" transform="rotate(-90 15.3 67.6)" stroke="#1e1e1e" stroke-width="0.35">SSC-A</text>
<g clip-path="url(#c1)"><g filter="url(#pc1)">
<path d="M181.0,100.0 L186.0,93.0 L215.0,72.0 L228.0,60.0 L229.5,70.0 L229.5,89.0 L220.0,92.0 L205.0,98.0 L195.0,101.5 L186.0,103.0 Z" fill="#fff" opacity="0.040" filter="url(#b0)"/>
<path d="M184.0,97.0 L200.0,86.0 L228.0,64.0 L228.5,75.0 L228.0,86.0 L215.0,89.0 L200.0,95.0 L188.0,99.0 Z" fill="#fff" opacity="0.050" filter="url(#b5)"/>
<path d="M183.8,93.3 L227.6,53.8 L228.2,58.0 L228.2,66.5 L186.0,97.0 Z" fill="#fff" opacity="0.160" filter="url(#b6)"/>
<ellipse cx="189.0" cy="89.6" rx="5.5" ry="2.2" fill="url(#gg)" opacity="0.400" transform="rotate(-42 189.0 89.6)"/>
<ellipse cx="188.5" cy="90.0" rx="2.0" ry="1.2" fill="url(#gg)" opacity="0.350" transform="rotate(-42 188.5 90.0)"/>
</g></g>
<path d="M183.7,92.3 L228.3,52.2 L228.3,66.9 L183.7,98.8 Z" fill="none" stroke="#2a2a2a" stroke-width="0.95"/>
<rect x="164.50" y="20.10" width="94.20" height="93.60" fill="none" stroke="#858585" stroke-width="1.3"/>
<path d="M164.5,25.0h-2.6M164.5,42.0h-2.6M164.5,59.3h-2.6M164.5,76.3h-2.6M164.5,93.8h-2.6M164.5,110.8h-2.6M164.5,21.1h-1.4M164.5,24.5h-1.4M164.5,27.9h-1.4M164.5,31.3h-1.4M164.5,34.7h-1.4M164.5,38.1h-1.4M164.5,41.5h-1.4M164.5,44.9h-1.4M164.5,48.3h-1.4M164.5,51.7h-1.4M164.5,55.1h-1.4M164.5,58.5h-1.4M164.5,61.9h-1.4M164.5,65.3h-1.4M164.5,68.7h-1.4M164.5,72.1h-1.4M164.5,75.5h-1.4M164.5,78.9h-1.4M164.5,82.3h-1.4M164.5,85.7h-1.4M164.5,89.1h-1.4M164.5,92.5h-1.4M164.5,95.9h-1.4M164.5,99.3h-1.4M164.5,102.7h-1.4M164.5,106.1h-1.4M164.5,109.5h-1.4M164.5,112.9h-1.4" stroke="#333" stroke-width="0.7" fill="none"/>
<path d="M165.8,113.7v2.6M183.8,113.7v2.6M201.3,113.7v2.6M218.8,113.7v2.6M236.3,113.7v2.6M253.0,113.7v2.6M165.5,113.7v1.4M169.0,113.7v1.4M172.5,113.7v1.4M176.0,113.7v1.4M179.5,113.7v1.4M183.0,113.7v1.4M186.5,113.7v1.4M190.0,113.7v1.4M193.5,113.7v1.4M197.0,113.7v1.4M200.5,113.7v1.4M204.0,113.7v1.4M207.5,113.7v1.4M211.0,113.7v1.4M214.5,113.7v1.4M218.0,113.7v1.4M221.5,113.7v1.4M225.0,113.7v1.4M228.5,113.7v1.4M232.0,113.7v1.4M235.5,113.7v1.4M239.0,113.7v1.4M242.5,113.7v1.4M246.0,113.7v1.4M249.5,113.7v1.4M253.0,113.7v1.4M256.5,113.7v1.4" stroke="#333" stroke-width="0.7" fill="none"/>
<text x="161.0" y="27.4" font-size="6.6" text-anchor="end" font-weight="normal" fill="#262626" stroke="#262626" stroke-width="0.25">250K</text>
<text x="161.0" y="44.4" font-size="6.6" text-anchor="end" font-weight="normal" fill="#262626" stroke="#262626" stroke-width="0.25">200K</text>
<text x="161.0" y="61.7" font-size="6.6" text-anchor="end" font-weight="normal" fill="#262626" stroke="#262626" stroke-width="0.25">150K</text>
<text x="161.0" y="78.7" font-size="6.6" text-anchor="end" font-weight="normal" fill="#262626" stroke="#262626" stroke-width="0.25">100K</text>
<text x="161.0" y="96.2" font-size="6.6" text-anchor="end" font-weight="normal" fill="#262626" stroke="#262626" stroke-width="0.25">50K</text>
<text x="161.0" y="113.2" font-size="6.6" text-anchor="end" font-weight="normal" fill="#262626" stroke="#262626" stroke-width="0.25">0</text>
<text x="165.8" y="122.9" font-size="6.6" text-anchor="middle" font-weight="normal" fill="#262626" stroke="#262626" stroke-width="0.25">0</text>
<text x="183.8" y="122.9" font-size="6.6" text-anchor="middle" font-weight="normal" fill="#262626" stroke="#262626" stroke-width="0.25">50K</text>
<text x="201.3" y="122.9" font-size="6.6" text-anchor="middle" font-weight="normal" fill="#262626" stroke="#262626" stroke-width="0.25">100K</text>
<text x="218.8" y="122.9" font-size="6.6" text-anchor="middle" font-weight="normal" fill="#262626" stroke="#262626" stroke-width="0.25">150K</text>
<text x="236.3" y="122.9" font-size="6.6" text-anchor="middle" font-weight="normal" fill="#262626" stroke="#262626" stroke-width="0.25">200K</text>
<text x="253.3" y="122.9" font-size="6.6" text-anchor="middle" font-weight="normal" fill="#262626" stroke="#262626" stroke-width="0.25">250K</text>
<text x="210.5" y="132.8" font-size="9.6" text-anchor="middle" font-weight="normal" fill="#1e1e1e" textLength="21.0" lengthAdjust="spacingAndGlyphs" stroke="#1e1e1e" stroke-width="0.35">FSC-A</text>
<text x="142.6" y="68.5" font-size="9.6" text-anchor="middle" font-weight="normal" fill="#1e1e1e" textLength="20.0" lengthAdjust="spacingAndGlyphs" transform="rotate(-90 142.6 68.5)" stroke="#1e1e1e" stroke-width="0.35">FSC-H</text>
<g clip-path="url(#c2)"><g filter="url(#pc2)">
<path d="M298.0,44.0 L306.0,34.0 L318.0,24.0 L330.0,20.0 L345.0,21.0 L349.0,32.0 L350.0,44.0 Z" fill="#fff" opacity="0.035" filter="url(#b7)"/>
<path d="M336.0,42.0 L346.0,45.0 L351.0,60.0 L353.0,90.0 L351.0,114.0 L338.0,114.0 Z" fill="#fff" opacity="0.045" filter="url(#b2)"/>
<path d="M295.0,45.0 L340.0,45.0 L342.0,36.0 L325.0,33.0 L300.0,37.0 Z" fill="#fff" opacity="0.030" filter="url(#b2)"/>
<path d="M291.0,43.0 L310.0,42.0 L336.0,42.0 L340.0,55.0 L342.0,75.0 L341.0,95.0 L339.0,114.0 L291.0,114.0 Z" fill="#fff" opacity="0.160" filter="url(#b1)"/>
<ellipse cx="315.0" cy="100.0" rx="22.0" ry="10.0" fill="#fff" opacity="0.070" filter="url(#b8)"/>
<path d="M291.0,59.0 L340.0,57.0 L343.0,75.0 L338.0,96.0 L291.0,96.0 Z" fill="#fff" opacity="0.119" filter="url(#b0)"/>
<path d="M291.0,62.8 L315.0,61.5 L336.0,61.0 L338.5,72.0 L334.6,86.0 L315.0,81.0 L291.0,75.0 Z" fill="#fff" opacity="0.162" filter="url(#b0)"/>
<path d="M304.0,67.5 L318.0,63.5 L333.0,63.0 L336.5,70.0 L335.0,80.0 L320.0,79.5 L304.0,70.5 Z" fill="#fff" opacity="0.355" filter="url(#b0)"/>
<ellipse cx="328.0" cy="70.4" rx="7.5" ry="6.0" fill="#fff" opacity="0.350" filter="url(#b0)"/>
<ellipse cx="328.4" cy="70.4" rx="4.6" ry="3.7" fill="#fff" opacity="1.000" filter="url(#b0)"/>
</g></g>
<rect x="291.6" y="59.1" width="59.9" height="53.5" fill="none" stroke="#2a2a2a" stroke-width="0.95"/>
<rect x="291.60" y="20.10" width="93.60" height="93.60" fill="none" stroke="#858585" stroke-width="1.3"/>
<path d="M291.6,28.3h-2.4M291.6,48.8h-2.4M291.6,69.5h-2.4M291.6,91.3h-2.4M291.6,101.3h-2.4M291.6,84.7h-1.2M291.6,80.9h-1.2M291.6,78.2h-1.2M291.6,76.1h-1.2M291.6,74.3h-1.2M291.6,72.9h-1.2M291.6,71.6h-1.2M291.6,70.5h-1.2M291.6,63.3h-1.2M291.6,59.6h-1.2M291.6,57.0h-1.2M291.6,55.0h-1.2M291.6,53.4h-1.2M291.6,52.0h-1.2M291.6,50.8h-1.2M291.6,49.7h-1.2M291.6,42.6h-1.2M291.6,39.0h-1.2M291.6,36.5h-1.2M291.6,34.5h-1.2M291.6,32.8h-1.2M291.6,31.5h-1.2M291.6,30.3h-1.2M291.6,29.2h-1.2" stroke="#333" stroke-width="0.7" fill="none"/>
<path d="M302.0,113.7v2.4M312.5,113.7v2.4M334.5,113.7v2.4M355.8,113.7v2.4M376.3,113.7v2.4M319.1,113.7v1.2M323.0,113.7v1.2M325.7,113.7v1.2M327.9,113.7v1.2M329.6,113.7v1.2M331.1,113.7v1.2M332.4,113.7v1.2M333.5,113.7v1.2M340.9,113.7v1.2M344.7,113.7v1.2M347.3,113.7v1.2M349.4,113.7v1.2M351.1,113.7v1.2M352.5,113.7v1.2M353.7,113.7v1.2M354.8,113.7v1.2M362.0,113.7v1.2M365.6,113.7v1.2M368.1,113.7v1.2M370.1,113.7v1.2M371.8,113.7v1.2M373.1,113.7v1.2M374.3,113.7v1.2M375.4,113.7v1.2" stroke="#333" stroke-width="0.7" fill="none"/>
<text x="278.6" y="30.7" font-size="6.6" fill="#262626" stroke="#262626" stroke-width="0.25">10<tspan font-size="4.1" dy="-3.0">5</tspan></text>
<text x="278.6" y="51.2" font-size="6.6" fill="#262626" stroke="#262626" stroke-width="0.25">10<tspan font-size="4.1" dy="-3.0">4</tspan></text>
<text x="278.6" y="71.9" font-size="6.6" fill="#262626" stroke="#262626" stroke-width="0.25">10<tspan font-size="4.1" dy="-3.0">3</tspan></text>
<text x="278.6" y="93.7" font-size="6.6" fill="#262626" stroke="#262626" stroke-width="0.25">10<tspan font-size="4.1" dy="-3.0">2</tspan></text>
<text x="288.2" y="103.7" font-size="6.6" text-anchor="end" font-weight="normal" fill="#262626" stroke="#262626" stroke-width="0.25">0</text>
<text x="302.0" y="122.9" font-size="6.6" text-anchor="middle" font-weight="normal" fill="#262626" stroke="#262626" stroke-width="0.25">0</text>
<text x="308.0" y="122.9" font-size="6.6" fill="#262626" stroke="#262626" stroke-width="0.25">10<tspan font-size="4.1" dy="-3.0">2</tspan></text>
<text x="330.0" y="122.9" font-size="6.6" fill="#262626" stroke="#262626" stroke-width="0.25">10<tspan font-size="4.1" dy="-3.0">3</tspan></text>
<text x="351.3" y="122.9" font-size="6.6" fill="#262626" stroke="#262626" stroke-width="0.25">10<tspan font-size="4.1" dy="-3.0">4</tspan></text>
<text x="371.8" y="122.9" font-size="6.6" fill="#262626" stroke="#262626" stroke-width="0.25">10<tspan font-size="4.1" dy="-3.0">5</tspan></text>
<text x="338.0" y="132.8" font-size="9.6" text-anchor="middle" font-weight="normal" fill="#1e1e1e" textLength="33.0" lengthAdjust="spacingAndGlyphs" stroke="#1e1e1e" stroke-width="0.35">Live/dead</text>
<text x="275.0" y="67.5" font-size="9.6" text-anchor="middle" font-weight="normal" fill="#1e1e1e" textLength="34.0" lengthAdjust="spacingAndGlyphs" transform="rotate(-90 275.0 67.5)" stroke="#1e1e1e" stroke-width="0.35">CD3/CD20</text>
<g clip-path="url(#c3)"><g filter="url(#pc3)">
<path d="M419.0,24.0 L430.0,29.0 L450.0,33.0 L470.0,29.0 L490.0,30.0 L497.0,40.0 L500.0,80.0 L498.0,114.0 L419.0,114.0 Z" fill="#fff" opacity="0.022" filter="url(#b7)"/>
<path d="M419.0,33.0 L425.0,37.0 L435.0,41.0 L446.0,44.0 L452.0,42.0 L460.0,40.0 L470.0,38.0 L480.0,36.0 L488.0,38.0 L492.0,42.0 L493.5,70.0 L492.5,95.0 L490.0,104.0 L470.0,104.0 L455.0,100.0 L442.0,103.0 L437.0,110.0 L419.0,110.0 Z" fill="#fff" opacity="0.160" filter="url(#b1)"/>
<path d="M419.0,96.0 L490.0,96.0 L489.0,114.0 L419.0,114.0 Z" fill="#fff" opacity="0.045" filter="url(#b0)"/>
<ellipse cx="460.0" cy="57.0" rx="11.0" ry="12.0" fill="#fff" opacity="0.100" filter="url(#b7)"/>
<ellipse cx="455.0" cy="102.0" rx="35.0" ry="9.0" fill="#fff" opacity="0.060" filter="url(#b7)"/>
<ellipse cx="430.2" cy="73.1" rx="8.9" ry="24.6" fill="#fff" opacity="0.262" filter="url(#b0)"/>
<ellipse cx="429.8" cy="74.5" rx="6.4" ry="20.5" fill="#fff" opacity="0.290" filter="url(#b0)"/>
<ellipse cx="429.9" cy="77.0" rx="4.1" ry="10.5" fill="#fff" opacity="0.409" filter="url(#b0)"/>
<ellipse cx="430.1" cy="77.6" rx="2.7" ry="4.4" fill="#fff" opacity="1.000" filter="url(#b0)"/>
<ellipse cx="471.0" cy="71.0" rx="19.0" ry="28.0" fill="#fff" opacity="0.119" filter="url(#b2)"/>
<ellipse cx="473.0" cy="72.0" rx="15.5" ry="25.0" fill="#fff" opacity="0.162" filter="url(#b2)"/>
<ellipse cx="462.0" cy="83.0" rx="8.0" ry="8.0" fill="#fff" opacity="0.200" filter="url(#b2)"/>
<ellipse cx="476.5" cy="71.0" rx="10.5" ry="24.0" fill="#fff" opacity="0.290" filter="url(#b0)"/>
<ellipse cx="478.0" cy="74.5" rx="6.2" ry="15.0" fill="#fff" opacity="0.409" filter="url(#b0)"/>
<ellipse cx="478.2" cy="76.0" rx="3.8" ry="6.0" fill="#fff" opacity="1.000" filter="url(#b0)"/>
</g></g>
<rect x="420.6" y="28.4" width="25.8" height="80.6" fill="none" stroke="#2a2a2a" stroke-width="0.95"/>
<rect x="450.6" y="28.4" width="45.7" height="80.6" fill="none" stroke="#2a2a2a" stroke-width="0.95"/>
<rect x="419.00" y="20.10" width="94.20" height="93.60" fill="none" stroke="#858585" stroke-width="1.3"/>
<path d="M419.0,28.3h-2.4M419.0,48.8h-2.4M419.0,70.0h-2.4M419.0,92.5h-2.4M419.0,104.5h-2.4M419.0,85.7h-1.2M419.0,81.8h-1.2M419.0,79.0h-1.2M419.0,76.8h-1.2M419.0,75.0h-1.2M419.0,73.5h-1.2M419.0,72.2h-1.2M419.0,71.0h-1.2M419.0,63.6h-1.2M419.0,59.9h-1.2M419.0,57.2h-1.2M419.0,55.2h-1.2M419.0,53.5h-1.2M419.0,52.1h-1.2M419.0,50.9h-1.2M419.0,49.8h-1.2M419.0,42.6h-1.2M419.0,39.0h-1.2M419.0,36.5h-1.2M419.0,34.5h-1.2M419.0,32.8h-1.2M419.0,31.5h-1.2M419.0,30.3h-1.2M419.0,29.2h-1.2" stroke="#333" stroke-width="0.7" fill="none"/>
<path d="M439.5,113.7v2.4M450.8,113.7v2.4M478.8,113.7v2.4M501.8,113.7v2.4M459.2,113.7v1.2M464.2,113.7v1.2M467.7,113.7v1.2M470.4,113.7v1.2M472.6,113.7v1.2M474.5,113.7v1.2M476.1,113.7v1.2M477.5,113.7v1.2M485.7,113.7v1.2M489.8,113.7v1.2M492.6,113.7v1.2M494.9,113.7v1.2M496.7,113.7v1.2M498.2,113.7v1.2M499.6,113.7v1.2M500.7,113.7v1.2" stroke="#333" stroke-width="0.7" fill="none"/>
<text x="406.2" y="30.7" font-size="6.6" fill="#262626" stroke="#262626" stroke-width="0.25">10<tspan font-size="4.1" dy="-3.0">5</tspan></text>
<text x="406.2" y="51.2" font-size="6.6" fill="#262626" stroke="#262626" stroke-width="0.25">10<tspan font-size="4.1" dy="-3.0">4</tspan></text>
<text x="406.2" y="72.4" font-size="6.6" fill="#262626" stroke="#262626" stroke-width="0.25">10<tspan font-size="4.1" dy="-3.0">3</tspan></text>
<text x="406.2" y="94.9" font-size="6.6" fill="#262626" stroke="#262626" stroke-width="0.25">10<tspan font-size="4.1" dy="-3.0">2</tspan></text>
<text x="415.8" y="106.9" font-size="6.6" text-anchor="end" font-weight="normal" fill="#262626" stroke="#262626" stroke-width="0.25">0</text>
<text x="439.5" y="122.9" font-size="6.6" text-anchor="middle" font-weight="normal" fill="#262626" stroke="#262626" stroke-width="0.25">0</text>
<text x="446.3" y="122.9" font-size="6.6" fill="#262626" stroke="#262626" stroke-width="0.25">10<tspan font-size="4.1" dy="-3.0">3</tspan></text>
<text x="474.3" y="122.9" font-size="6.6" fill="#262626" stroke="#262626" stroke-width="0.25">10<tspan font-size="4.1" dy="-3.0">4</tspan></text>
<text x="497.3" y="122.9" font-size="6.6" fill="#262626" stroke="#262626" stroke-width="0.25">10<tspan font-size="4.1" dy="-3.0">5</tspan></text>
<text x="465.0" y="132.8" font-size="9.6" text-anchor="middle" font-weight="normal" fill="#1e1e1e" textLength="18.0" lengthAdjust="spacingAndGlyphs" stroke="#1e1e1e" stroke-width="0.35">CD14</text>
<text x="403.6" y="68.8" font-size="9.6" text-anchor="middle" font-weight="normal" fill="#1e1e1e" textLength="27.0" lengthAdjust="spacingAndGlyphs" transform="rotate(-90 403.6 68.8)" stroke="#1e1e1e" stroke-width="0.35">HLA-DR</text>
<path d="M427,112.8 L406.8,138.3 L80.5,138.3 L80.5,148" fill="none" stroke="#111" stroke-width="1.3"/>
<path d="M78.6,146.6 L82.4,146.6 L80.5,151 Z" fill="#111"/>
<g clip-path="url(#c4)"><g filter="url(#pc4)">
<path d="M33.0,195.0 L50.0,175.0 L70.0,162.0 L85.0,160.0 L95.0,170.0 L90.0,195.0 L80.0,225.0 L70.0,237.0 L50.0,234.0 L34.0,222.0 Z" fill="#fff" opacity="0.035" filter="url(#b8)"/>
<path d="M36.8,200.0 L41.6,192.0 L51.2,184.0 L60.8,174.4 L70.5,168.0 L78.5,166.4 L84.9,168.0 L87.3,174.4 L85.7,184.0 L81.7,193.7 L76.9,204.9 L72.9,214.5 L68.9,219.3 L60.8,217.7 L51.2,211.3 L43.2,206.5 L37.6,203.3 Z" fill="#fff" opacity="0.160" filter="url(#b5)"/>
<ellipse cx="70.0" cy="189.0" rx="13.5" ry="10.5" fill="#fff" opacity="0.119" transform="rotate(-50 70.0 189.0)" filter="url(#b2)"/>
<ellipse cx="74.5" cy="180.0" rx="8.0" ry="8.0" fill="#fff" opacity="0.162" filter="url(#b5)"/>
<ellipse cx="74.8" cy="180.0" rx="5.6" ry="6.0" fill="#fff" opacity="0.290" filter="url(#b5)"/>
<ellipse cx="75.2" cy="180.0" rx="3.4" ry="3.6" fill="#fff" opacity="0.205" filter="url(#b5)"/>
<ellipse cx="66.5" cy="196.0" rx="12.0" ry="10.4" fill="#fff" opacity="0.162" transform="rotate(-20 66.5 196.0)" filter="url(#b5)"/>
<ellipse cx="67.2" cy="195.6" rx="8.8" ry="7.6" fill="#fff" opacity="0.290" transform="rotate(-20 67.2 195.6)" filter="url(#b5)"/>
<ellipse cx="68.0" cy="195.3" rx="5.6" ry="4.8" fill="#fff" opacity="0.409" filter="url(#b5)"/>
<ellipse cx="68.5" cy="195.6" rx="3.6" ry="2.8" fill="#fff" opacity="1.000" filter="url(#b5)"/>
<path d="M82.0,205.0 L86.0,194.0 L92.0,193.0 L97.0,203.0 L96.0,220.0 L96.0,235.0 L95.0,246.0 L84.0,246.0 L83.0,230.0 Z" fill="#fff" opacity="0.030" filter="url(#b2)"/>
<path d="M84.0,215.0 L94.0,215.0 L95.0,230.0 L94.5,244.0 L85.0,244.0 L84.0,230.0 Z" fill="#fff" opacity="0.045" filter="url(#b2)"/>
<path d="M84.0,200.0 L88.0,195.5 L93.0,196.0 L96.5,203.0 L96.0,212.0 L93.0,220.0 L90.0,221.0 L86.0,218.0 L84.0,208.0 Z" fill="#fff" opacity="0.070" filter="url(#b5)"/>
<ellipse cx="89.8" cy="206.0" rx="3.5" ry="6.0" fill="#fff" opacity="0.120" filter="url(#b0)"/>
</g></g>
<path d="M34.5,160.1 L84.7,160.1 L92.7,170.7 L67.3,228.9 L34.5,228.9 Z" fill="none" stroke="#2a2a2a" stroke-width="0.95"/>
<rect x="80.4" y="188.7" width="20.8" height="56.0" fill="none" stroke="#2a2a2a" stroke-width="0.95"/>
<rect x="32.00" y="151.80" width="93.00" height="93.20" fill="none" stroke="#858585" stroke-width="1.3"/>
<path d="M32.0,160.4h-2.4M32.0,180.8h-2.4M32.0,202.2h-2.4M32.0,224.7h-2.4M32.0,235.2h-2.4M32.0,217.9h-1.2M32.0,214.0h-1.2M32.0,211.2h-1.2M32.0,209.0h-1.2M32.0,207.2h-1.2M32.0,205.7h-1.2M32.0,204.4h-1.2M32.0,203.2h-1.2M32.0,195.8h-1.2M32.0,192.0h-1.2M32.0,189.3h-1.2M32.0,187.2h-1.2M32.0,185.5h-1.2M32.0,184.1h-1.2M32.0,182.9h-1.2M32.0,181.8h-1.2M32.0,174.7h-1.2M32.0,171.1h-1.2M32.0,168.5h-1.2M32.0,166.5h-1.2M32.0,164.9h-1.2M32.0,163.6h-1.2M32.0,162.4h-1.2M32.0,161.3h-1.2" stroke="#333" stroke-width="0.7" fill="none"/>
<path d="M41.8,245.0v2.4M50.6,245.0v2.4M73.5,245.0v2.4M96.0,245.0v2.4M117.4,245.0v2.4M57.5,245.0v1.2M61.5,245.0v1.2M64.4,245.0v1.2M66.6,245.0v1.2M68.4,245.0v1.2M70.0,245.0v1.2M71.3,245.0v1.2M72.5,245.0v1.2M80.3,245.0v1.2M84.2,245.0v1.2M87.0,245.0v1.2M89.2,245.0v1.2M91.0,245.0v1.2M92.5,245.0v1.2M93.8,245.0v1.2M95.0,245.0v1.2M102.4,245.0v1.2M106.2,245.0v1.2M108.9,245.0v1.2M111.0,245.0v1.2M112.7,245.0v1.2M114.1,245.0v1.2M115.3,245.0v1.2M116.4,245.0v1.2" stroke="#333" stroke-width="0.7" fill="none"/>
<text x="19.0" y="162.8" font-size="6.6" fill="#262626" stroke="#262626" stroke-width="0.25">10<tspan font-size="4.1" dy="-3.0">5</tspan></text>
<text x="19.0" y="183.2" font-size="6.6" fill="#262626" stroke="#262626" stroke-width="0.25">10<tspan font-size="4.1" dy="-3.0">4</tspan></text>
<text x="19.0" y="204.6" font-size="6.6" fill="#262626" stroke="#262626" stroke-width="0.25">10<tspan font-size="4.1" dy="-3.0">3</tspan></text>
<text x="19.0" y="227.1" font-size="6.6" fill="#262626" stroke="#262626" stroke-width="0.25">10<tspan font-size="4.1" dy="-3.0">2</tspan></text>
<text x="28.6" y="237.6" font-size="6.6" text-anchor="end" font-weight="normal" fill="#262626" stroke="#262626" stroke-width="0.25">0</text>
<text x="41.8" y="254.3" font-size="6.6" text-anchor="middle" font-weight="normal" fill="#262626" stroke="#262626" stroke-width="0.25">0</text>
<text x="46.1" y="254.3" font-size="6.6" fill="#262626" stroke="#262626" stroke-width="0.25">10<tspan font-size="4.1" dy="-3.0">2</tspan></text>
<text x="69.0" y="254.3" font-size="6.6" fill="#262626" stroke="#262626" stroke-width="0.25">10<tspan font-size="4.1" dy="-3.0">3</tspan></text>
<text x="91.5" y="254.3" font-size="6.6" fill="#262626" stroke="#262626" stroke-width="0.25">10<tspan font-size="4.1" dy="-3.0">4</tspan></text>
<text x="112.9" y="254.3" font-size="6.6" fill="#262626" stroke="#262626" stroke-width="0.25">10<tspan font-size="4.1" dy="-3.0">5</tspan></text>
<text x="77.4" y="265.4" font-size="9.6" text-anchor="middle" font-weight="normal" fill="#1e1e1e" textLength="23.0" lengthAdjust="spacingAndGlyphs" stroke="#1e1e1e" stroke-width="0.35">CD123</text>
<text x="16.8" y="200.0" font-size="9.6" text-anchor="middle" font-weight="normal" fill="#1e1e1e" textLength="22.0" lengthAdjust="spacingAndGlyphs" transform="rotate(-90 16.8 200.0)" stroke="#1e1e1e" stroke-width="0.35">CD11c</text>
<path d="M102.3,167.5 L147,167.5" fill="none" stroke="#111" stroke-width="1.1"/>
<path d="M146,165.6 L150.5,167.5 L146,169.4 Z" fill="#111"/>
<g clip-path="url(#c5)"><g filter="url(#pc5)">
<path d="M200.0,201.0 L215.0,196.0 L240.0,200.0 L248.0,211.0 L230.0,216.0 L210.0,217.0 Z" fill="#fff" opacity="0.030" filter="url(#b8)"/>
<path d="M165.5,205.0 L210.0,205.0 L210.0,219.0 L165.5,219.0 Z" fill="#fff" opacity="0.160" filter="url(#b3)"/>
<path d="M167.3,207.3 L208.5,207.3 L208.5,217.0 L167.3,217.0 Z" fill="#fff" opacity="0.262" filter="url(#b4)"/>
<ellipse cx="189.0" cy="212.0" rx="17.5" ry="3.3" fill="#fff" opacity="0.290" filter="url(#b4)"/>
<ellipse cx="198.0" cy="212.0" rx="8.5" ry="2.6" fill="#fff" opacity="0.205" filter="url(#b4)"/>
<ellipse cx="229.3" cy="197.8" rx="22.0" ry="8.0" fill="#fff" opacity="0.040" filter="url(#b2)"/>
<ellipse cx="229.3" cy="197.8" rx="18.8" ry="6.0" fill="#fff" opacity="0.130" filter="url(#b3)"/>
<ellipse cx="229.3" cy="197.9" rx="13.2" ry="4.7" fill="#fff" opacity="0.287" filter="url(#b3)"/>
<ellipse cx="229.0" cy="198.0" rx="8.8" ry="3.6" fill="#fff" opacity="0.290" filter="url(#b3)"/>
<ellipse cx="228.8" cy="198.0" rx="5.7" ry="2.6" fill="#fff" opacity="0.409" filter="url(#b3)"/>
<ellipse cx="228.8" cy="198.1" rx="3.3" ry="1.6" fill="#fff" opacity="1.000" filter="url(#b3)"/>
</g></g>
<ellipse cx="230.5" cy="197.1" rx="22.4" ry="9.2" fill="none" stroke="#222" stroke-width="0.95"/>
<rect x="165.2" y="204.1" width="46.3" height="15.9" fill="none" stroke="#2a2a2a" stroke-width="0.95"/>
<rect x="164.00" y="151.80" width="94.70" height="93.20" fill="none" stroke="#858585" stroke-width="1.3"/>
<path d="M164.0,160.4h-2.4M164.0,181.6h-2.4M164.0,203.5h-2.4M164.0,225.4h-2.4M164.0,235.8h-2.4M164.0,218.8h-1.2M164.0,215.0h-1.2M164.0,212.2h-1.2M164.0,210.1h-1.2M164.0,208.4h-1.2M164.0,206.9h-1.2M164.0,205.6h-1.2M164.0,204.5h-1.2M164.0,196.9h-1.2M164.0,193.1h-1.2M164.0,190.3h-1.2M164.0,188.2h-1.2M164.0,186.5h-1.2M164.0,185.0h-1.2M164.0,183.7h-1.2M164.0,182.6h-1.2M164.0,175.2h-1.2M164.0,171.5h-1.2M164.0,168.8h-1.2M164.0,166.8h-1.2M164.0,165.1h-1.2M164.0,163.7h-1.2M164.0,162.5h-1.2M164.0,161.4h-1.2" stroke="#333" stroke-width="0.7" fill="none"/>
<path d="M179.8,245.0v2.4M201.7,245.0v2.4M227.5,245.0v2.4M248.1,245.0v2.4M209.5,245.0v1.2M214.0,245.0v1.2M217.2,245.0v1.2M219.7,245.0v1.2M221.8,245.0v1.2M223.5,245.0v1.2M225.0,245.0v1.2M226.3,245.0v1.2M233.7,245.0v1.2M237.3,245.0v1.2M239.9,245.0v1.2M241.9,245.0v1.2M243.5,245.0v1.2M244.9,245.0v1.2M246.1,245.0v1.2M247.2,245.0v1.2" stroke="#333" stroke-width="0.7" fill="none"/>
<text x="151.0" y="162.8" font-size="6.6" fill="#262626" stroke="#262626" stroke-width="0.25">10<tspan font-size="4.1" dy="-3.0">5</tspan></text>
<text x="151.0" y="184.0" font-size="6.6" fill="#262626" stroke="#262626" stroke-width="0.25">10<tspan font-size="4.1" dy="-3.0">4</tspan></text>
<text x="151.0" y="205.9" font-size="6.6" fill="#262626" stroke="#262626" stroke-width="0.25">10<tspan font-size="4.1" dy="-3.0">3</tspan></text>
<text x="151.0" y="227.8" font-size="6.6" fill="#262626" stroke="#262626" stroke-width="0.25">10<tspan font-size="4.1" dy="-3.0">2</tspan></text>
<text x="160.6" y="238.2" font-size="6.6" text-anchor="end" font-weight="normal" fill="#262626" stroke="#262626" stroke-width="0.25">0</text>
<text x="179.8" y="254.3" font-size="6.6" text-anchor="middle" font-weight="normal" fill="#262626" stroke="#262626" stroke-width="0.25">0</text>
<text x="197.2" y="254.3" font-size="6.6" fill="#262626" stroke="#262626" stroke-width="0.25">10<tspan font-size="4.1" dy="-3.0">3</tspan></text>
<text x="223.0" y="254.3" font-size="6.6" fill="#262626" stroke="#262626" stroke-width="0.25">10<tspan font-size="4.1" dy="-3.0">4</tspan></text>
<text x="243.6" y="254.3" font-size="6.6" fill="#262626" stroke="#262626" stroke-width="0.25">10<tspan font-size="4.1" dy="-3.0">5</tspan></text>
<text x="210.4" y="265.4" font-size="9.6" text-anchor="middle" font-weight="normal" fill="#1e1e1e" textLength="34.0" lengthAdjust="spacingAndGlyphs" stroke="#1e1e1e" stroke-width="0.35">CD66abce</text>
<text x="148.6" y="199.0" font-size="9.6" text-anchor="middle" font-weight="normal" fill="#1e1e1e" textLength="22.0" lengthAdjust="spacingAndGlyphs" transform="rotate(-90 148.6 199.0)" stroke="#1e1e1e" stroke-width="0.35">SSC-A</text>
<path d="M201.5,220 L201.5,228.3 L263,228.3" fill="none" stroke="#111" stroke-width="1.1"/>
<path d="M262,226.4 L266.5,228.3 L262,230.2 Z" fill="#111"/>
<g clip-path="url(#c6)"><g filter="url(#pc6)">
<path d="M318.0,186.0 L360.0,184.0 L372.0,190.0 L372.0,201.0 L318.0,201.0 Z" fill="#fff" opacity="0.015" filter="url(#b8)"/>
<ellipse cx="304.1" cy="189.6" rx="8.5" ry="7.0" fill="#fff" opacity="0.040" filter="url(#b0)"/>
<ellipse cx="304.0" cy="189.6" rx="4.5" ry="3.5" fill="#fff" opacity="0.030" filter="url(#b0)"/>
<path d="M316.0,205.0 L345.0,203.0 L362.0,206.0 L364.0,225.0 L360.0,240.0 L316.0,240.0 Z" fill="#fff" opacity="0.040" filter="url(#b7)"/>
<ellipse cx="338.0" cy="223.0" rx="17.0" ry="13.0" fill="#fff" opacity="0.030" filter="url(#b8)"/>
<ellipse cx="320.0" cy="221.0" rx="4.0" ry="14.0" fill="#fff" opacity="0.050" filter="url(#b2)"/>
<path d="M292.5,204.0 L318.0,203.5 L319.0,225.0 L316.0,240.0 L292.5,240.0 Z" fill="#fff" opacity="0.050" filter="url(#b0)"/>
<path d="M293.5,207.0 L300.0,205.5 L310.0,205.5 L315.0,208.0 L315.5,215.0 L314.0,224.0 L309.0,232.0 L303.0,236.5 L297.0,233.0 L294.0,226.0 L293.5,215.0 Z" fill="#fff" opacity="0.160" filter="url(#b5)"/>
<path d="M294.5,213.0 L296.0,209.5 L300.0,208.3 L306.0,208.3 L311.0,210.0 L313.0,214.0 L312.0,220.0 L308.5,226.0 L303.5,231.0 L298.0,226.5 L295.0,220.0 Z" fill="#fff" opacity="0.262" filter="url(#b5)"/>
<ellipse cx="303.5" cy="218.5" rx="8.0" ry="8.6" fill="#fff" opacity="0.290" filter="url(#b5)"/>
<ellipse cx="303.4" cy="217.4" rx="5.2" ry="5.1" fill="#fff" opacity="0.409" filter="url(#b5)"/>
<ellipse cx="302.9" cy="217.3" rx="2.6" ry="2.8" fill="#fff" opacity="1.000" filter="url(#b5)"/>
</g></g>
<rect x="292.7" y="177.7" width="25.4" height="21.5" fill="none" stroke="#2a2a2a" stroke-width="0.95"/>
<rect x="292.7" y="202.4" width="25.4" height="40.8" fill="none" stroke="#2a2a2a" stroke-width="0.95"/>
<rect x="320.6" y="202.4" width="48.7" height="40.8" fill="none" stroke="#2a2a2a" stroke-width="0.95"/>
<rect x="291.60" y="151.80" width="94.20" height="93.20" fill="none" stroke="#858585" stroke-width="1.3"/>
<path d="M291.6,160.4h-2.4M291.6,180.8h-2.4M291.6,203.0h-2.4M291.6,224.9h-2.4M291.6,235.2h-2.4M291.6,218.3h-1.2M291.6,214.5h-1.2M291.6,211.7h-1.2M291.6,209.6h-1.2M291.6,207.9h-1.2M291.6,206.4h-1.2M291.6,205.1h-1.2M291.6,204.0h-1.2M291.6,196.3h-1.2M291.6,192.4h-1.2M291.6,189.6h-1.2M291.6,187.5h-1.2M291.6,185.7h-1.2M291.6,184.2h-1.2M291.6,183.0h-1.2M291.6,181.8h-1.2M291.6,174.7h-1.2M291.6,171.1h-1.2M291.6,168.5h-1.2M291.6,166.5h-1.2M291.6,164.9h-1.2M291.6,163.6h-1.2M291.6,162.4h-1.2M291.6,161.3h-1.2" stroke="#333" stroke-width="0.7" fill="none"/>
<path d="M302.6,245.0v2.4M329.6,245.0v2.4M354.1,245.0v2.4M377.4,245.0v2.4M337.0,245.0v1.2M341.3,245.0v1.2M344.4,245.0v1.2M346.7,245.0v1.2M348.7,245.0v1.2M350.3,245.0v1.2M351.7,245.0v1.2M353.0,245.0v1.2M361.1,245.0v1.2M365.2,245.0v1.2M368.1,245.0v1.2M370.4,245.0v1.2M372.2,245.0v1.2M373.8,245.0v1.2M375.1,245.0v1.2M376.3,245.0v1.2" stroke="#333" stroke-width="0.7" fill="none"/>
<text x="278.7" y="162.8" font-size="6.6" fill="#262626" stroke="#262626" stroke-width="0.25">10<tspan font-size="4.1" dy="-3.0">5</tspan></text>
<text x="278.7" y="183.2" font-size="6.6" fill="#262626" stroke="#262626" stroke-width="0.25">10<tspan font-size="4.1" dy="-3.0">4</tspan></text>
<text x="278.7" y="205.4" font-size="6.6" fill="#262626" stroke="#262626" stroke-width="0.25">10<tspan font-size="4.1" dy="-3.0">3</tspan></text>
<text x="278.7" y="227.3" font-size="6.6" fill="#262626" stroke="#262626" stroke-width="0.25">10<tspan font-size="4.1" dy="-3.0">2</tspan></text>
<text x="288.3" y="237.6" font-size="6.6" text-anchor="end" font-weight="normal" fill="#262626" stroke="#262626" stroke-width="0.25">0</text>
<text x="302.6" y="254.3" font-size="6.6" text-anchor="middle" font-weight="normal" fill="#262626" stroke="#262626" stroke-width="0.25">0</text>
<text x="325.1" y="254.3" font-size="6.6" fill="#262626" stroke="#262626" stroke-width="0.25">10<tspan font-size="4.1" dy="-3.0">3</tspan></text>
<text x="349.6" y="254.3" font-size="6.6" fill="#262626" stroke="#262626" stroke-width="0.25">10<tspan font-size="4.1" dy="-3.0">4</tspan></text>
<text x="372.9" y="254.3" font-size="6.6" fill="#262626" stroke="#262626" stroke-width="0.25">10<tspan font-size="4.1" dy="-3.0">5</tspan></text>
<text x="337.4" y="265.4" font-size="9.6" text-anchor="middle" font-weight="normal" fill="#1e1e1e" textLength="26.0" lengthAdjust="spacingAndGlyphs" stroke="#1e1e1e" stroke-width="0.35">BDCA-1</text>
<text x="277.3" y="201.0" font-size="9.6" text-anchor="middle" font-weight="normal" fill="#1e1e1e" textLength="26.0" lengthAdjust="spacingAndGlyphs" transform="rotate(-90 277.3 201.0)" stroke="#1e1e1e" stroke-width="0.35">BDCA-3</text>
<path d="M302.2,245 L302.2,270.6 L441.6,270.6 L441.6,258" fill="none" stroke="#111" stroke-width="1.1"/>
<path d="M439.7,259 L441.6,254.5 L443.5,259 Z" fill="#111"/>
<g clip-path="url(#c7)"><g filter="url(#pc7)">
<path d="M420.0,205.0 L445.0,200.0 L475.0,198.0 L490.0,203.0 L492.0,225.0 L488.0,238.0 L440.0,242.0 L420.0,242.0 Z" fill="#fff" opacity="0.030" filter="url(#b7)"/>
<ellipse cx="431.0" cy="222.0" rx="10.5" ry="15.0" fill="#fff" opacity="0.040" filter="url(#b0)"/>
<ellipse cx="430.5" cy="222.5" rx="7.5" ry="11.0" fill="#fff" opacity="0.035" filter="url(#b0)"/>
<ellipse cx="430.0" cy="223.0" rx="4.0" ry="5.0" fill="#fff" opacity="0.200" filter="url(#b0)"/>
<ellipse cx="441.0" cy="220.0" rx="6.0" ry="12.0" fill="#fff" opacity="0.060" filter="url(#b2)"/>
<ellipse cx="463.6" cy="218.8" rx="24.0" ry="16.0" fill="#fff" opacity="0.050" filter="url(#b2)"/>
<ellipse cx="463.6" cy="218.8" rx="21.6" ry="13.8" fill="#fff" opacity="0.130" filter="url(#b9)"/>
<ellipse cx="465.0" cy="218.0" rx="15.4" ry="10.0" fill="#fff" opacity="0.287" filter="url(#b9)"/>
<ellipse cx="465.5" cy="218.0" rx="12.7" ry="7.7" fill="#fff" opacity="0.290" filter="url(#b9)"/>
<ellipse cx="467.0" cy="217.7" rx="6.8" ry="4.2" fill="#fff" opacity="0.409" filter="url(#b9)"/>
<ellipse cx="467.9" cy="217.2" rx="3.5" ry="2.1" fill="#fff" opacity="1.000" filter="url(#b9)"/>
</g></g>
<rect x="440.7" y="199.2" width="48.6" height="36.6" fill="none" stroke="#2a2a2a" stroke-width="0.95"/>
<rect x="419.50" y="151.80" width="93.70" height="93.20" fill="none" stroke="#858585" stroke-width="1.3"/>
<path d="M419.5,160.4h-2.4M419.5,180.8h-2.4M419.5,203.0h-2.4M419.5,224.9h-2.4M419.5,235.2h-2.4M419.5,218.3h-1.2M419.5,214.5h-1.2M419.5,211.7h-1.2M419.5,209.6h-1.2M419.5,207.9h-1.2M419.5,206.4h-1.2M419.5,205.1h-1.2M419.5,204.0h-1.2M419.5,196.3h-1.2M419.5,192.4h-1.2M419.5,189.6h-1.2M419.5,187.5h-1.2M419.5,185.7h-1.2M419.5,184.2h-1.2M419.5,183.0h-1.2M419.5,181.8h-1.2M419.5,174.7h-1.2M419.5,171.1h-1.2M419.5,168.5h-1.2M419.5,166.5h-1.2M419.5,164.9h-1.2M419.5,163.6h-1.2M419.5,162.4h-1.2M419.5,161.3h-1.2" stroke="#333" stroke-width="0.7" fill="none"/>
<path d="M430.0,245.0v2.4M454.0,245.0v2.4M479.0,245.0v2.4M502.2,245.0v2.4M461.5,245.0v1.2M465.9,245.0v1.2M469.1,245.0v1.2M471.5,245.0v1.2M473.5,245.0v1.2M475.1,245.0v1.2M476.6,245.0v1.2M477.9,245.0v1.2M486.0,245.0v1.2M490.1,245.0v1.2M493.0,245.0v1.2M495.2,245.0v1.2M497.1,245.0v1.2M498.6,245.0v1.2M500.0,245.0v1.2M501.1,245.0v1.2" stroke="#333" stroke-width="0.7" fill="none"/>
<text x="406.7" y="162.8" font-size="6.6" fill="#262626" stroke="#262626" stroke-width="0.25">10<tspan font-size="4.1" dy="-3.0">5</tspan></text>
<text x="406.7" y="183.2" font-size="6.6" fill="#262626" stroke="#262626" stroke-width="0.25">10<tspan font-size="4.1" dy="-3.0">4</tspan></text>
<text x="406.7" y="205.4" font-size="6.6" fill="#262626" stroke="#262626" stroke-width="0.25">10<tspan font-size="4.1" dy="-3.0">3</tspan></text>
<text x="406.7" y="227.3" font-size="6.6" fill="#262626" stroke="#262626" stroke-width="0.25">10<tspan font-size="4.1" dy="-3.0">2</tspan></text>
<text x="416.3" y="237.6" font-size="6.6" text-anchor="end" font-weight="normal" fill="#262626" stroke="#262626" stroke-width="0.25">0</text>
<text x="430.0" y="254.3" font-size="6.6" text-anchor="middle" font-weight="normal" fill="#262626" stroke="#262626" stroke-width="0.25">0</text>
<text x="449.5" y="254.3" font-size="6.6" fill="#262626" stroke="#262626" stroke-width="0.25">10<tspan font-size="4.1" dy="-3.0">3</tspan></text>
<text x="474.5" y="254.3" font-size="6.6" fill="#262626" stroke="#262626" stroke-width="0.25">10<tspan font-size="4.1" dy="-3.0">4</tspan></text>
<text x="497.7" y="254.3" font-size="6.6" fill="#262626" stroke="#262626" stroke-width="0.25">10<tspan font-size="4.1" dy="-3.0">5</tspan></text>
<text x="464.8" y="265.4" font-size="9.6" text-anchor="middle" font-weight="normal" fill="#1e1e1e" textLength="18.0" lengthAdjust="spacingAndGlyphs" stroke="#1e1e1e" stroke-width="0.35">CD16</text>
<text x="403.4" y="201.0" font-size="9.6" text-anchor="middle" font-weight="normal" fill="#1e1e1e" textLength="26.0" lengthAdjust="spacingAndGlyphs" transform="rotate(-90 403.4 201.0)" stroke="#1e1e1e" stroke-width="0.35">BDCA-3</text>
<text x="397.0" y="298.8" font-size="11.0" text-anchor="start" font-weight="bold" fill="#0a0a0a">C</text>
<g clip-path="url(#c8)"><g filter="url(#pc8)">
<path d="M445.0,345.0 L462.0,330.0 L478.0,322.0 L495.0,318.0 L510.0,322.0 L512.0,345.0 L500.0,356.0 L475.0,362.0 L455.0,372.0 L440.0,380.0 Z" fill="#fff" opacity="0.012" filter="url(#b10)"/>
<ellipse cx="488.0" cy="339.0" rx="22.0" ry="16.0" fill="#fff" opacity="0.040" transform="rotate(-20 488.0 339.0)" filter="url(#b2)"/>
<ellipse cx="489.2" cy="338.0" rx="17.3" ry="12.3" fill="#fff" opacity="0.130" transform="rotate(-20 489.2 338.0)" filter="url(#b4)"/>
<ellipse cx="491.5" cy="337.5" rx="10.5" ry="7.6" fill="#fff" opacity="0.287" transform="rotate(-15 491.5 337.5)" filter="url(#b4)"/>
<ellipse cx="491.5" cy="337.5" rx="7.6" ry="5.5" fill="#fff" opacity="0.290" filter="url(#b4)"/>
<ellipse cx="491.8" cy="337.0" rx="4.4" ry="3.3" fill="#fff" opacity="0.409" filter="url(#b4)"/>
<ellipse cx="492.0" cy="337.0" rx="2.1" ry="1.6" fill="#fff" opacity="1.000" filter="url(#b4)"/>
</g></g>
<rect x="420.20" y="300.60" width="92.80" height="93.10" fill="none" stroke="#858585" stroke-width="1.3"/>
<path d="M420.2,309.5h-2.4M420.2,331.8h-2.4M420.2,355.0h-2.4M420.2,378.3h-2.4M420.2,348.0h-1.2M420.2,343.9h-1.2M420.2,341.0h-1.2M420.2,338.8h-1.2M420.2,336.9h-1.2M420.2,335.4h-1.2M420.2,334.0h-1.2M420.2,332.9h-1.2M420.2,325.1h-1.2M420.2,321.2h-1.2M420.2,318.4h-1.2M420.2,316.2h-1.2M420.2,314.4h-1.2M420.2,313.0h-1.2M420.2,311.7h-1.2M420.2,310.5h-1.2" stroke="#333" stroke-width="0.7" fill="none"/>
<path d="M433.0,393.7v2.4M455.5,393.7v2.4M479.5,393.7v2.4M503.8,393.7v2.4M462.7,393.7v1.2M467.0,393.7v1.2M469.9,393.7v1.2M472.3,393.7v1.2M474.2,393.7v1.2M475.8,393.7v1.2M477.2,393.7v1.2M478.4,393.7v1.2M486.8,393.7v1.2M491.1,393.7v1.2M494.1,393.7v1.2M496.5,393.7v1.2M498.4,393.7v1.2M500.0,393.7v1.2M501.4,393.7v1.2M502.7,393.7v1.2" stroke="#333" stroke-width="0.7" fill="none"/>
<text x="407.5" y="311.9" font-size="6.6" fill="#262626" stroke="#262626" stroke-width="0.25">10<tspan font-size="4.1" dy="-3.0">5</tspan></text>
<text x="407.5" y="334.2" font-size="6.6" fill="#262626" stroke="#262626" stroke-width="0.25">10<tspan font-size="4.1" dy="-3.0">4</tspan></text>
<text x="407.5" y="357.4" font-size="6.6" fill="#262626" stroke="#262626" stroke-width="0.25">10<tspan font-size="4.1" dy="-3.0">3</tspan></text>
<text x="417.1" y="380.7" font-size="6.6" text-anchor="end" font-weight="normal" fill="#262626" stroke="#262626" stroke-width="0.25">0</text>
<text x="433.0" y="401.4" font-size="6.6" text-anchor="middle" font-weight="normal" fill="#262626" stroke="#262626" stroke-width="0.25">0</text>
<text x="451.0" y="401.4" font-size="6.6" fill="#262626" stroke="#262626" stroke-width="0.25">10<tspan font-size="4.1" dy="-3.0">3</tspan></text>
<text x="475.0" y="401.4" font-size="6.6" fill="#262626" stroke="#262626" stroke-width="0.25">10<tspan font-size="4.1" dy="-3.0">4</tspan></text>
<text x="499.3" y="401.4" font-size="6.6" fill="#262626" stroke="#262626" stroke-width="0.25">10<tspan font-size="4.1" dy="-3.0">5</tspan></text>
<text x="465.2" y="412.5" font-size="9.6" text-anchor="middle" font-weight="normal" fill="#1e1e1e" textLength="19.5" lengthAdjust="spacingAndGlyphs" stroke="#1e1e1e" stroke-width="0.35">CD15</text>
<text x="403.8" y="351.0" font-size="9.6" text-anchor="middle" font-weight="normal" fill="#1e1e1e" textLength="28.0" lengthAdjust="spacingAndGlyphs" transform="rotate(-90 403.8 351.0)" stroke="#1e1e1e" stroke-width="0.35">CD66abce</text>
<text x="7.0" y="297.8" font-size="11.0" text-anchor="start" font-weight="bold" fill="#0a0a0a">B</text>
<g clip-path="url(#c9)">
<path d="M10.5,346.4 L11.6,346.4 L11.6,346.4 L13.0,342.2 L15.0,338.3 L16.6,334.6 L18.3,330.9 L20.0,329.3 L21.7,327.0 L23.0,326.5 L25.0,324.3 L26.5,325.5 L28.4,321.6 L30.0,322.8 L31.7,319.7 L33.0,320.1 L35.0,318.5 L36.0,318.7 L37.5,313.4 L39.0,313.8 L40.0,310.6 L41.5,308.6 L43.4,304.6 L45.0,306.8 L46.7,315.1 L48.0,322.8 L49.2,328.3 L50.5,334.0 L51.7,339.4 L53.0,343.5 L54.2,346.4 L56.7,346.4 L56.7,346.4 L104.6,346.4 Z" fill="#b0b2da" stroke="none" opacity="0.86"/>
<path d="M10.5,346.4 L11.6,346.4 L11.6,346.4 L13.0,342.2 L15.0,338.3 L16.6,334.6 L18.3,330.9 L20.0,329.3 L21.7,327.0 L23.0,326.5 L25.0,324.3 L26.5,325.5 L28.4,321.6 L30.0,322.8 L31.7,319.7 L33.0,320.1 L35.0,318.5 L36.0,318.7 L37.5,313.4 L39.0,313.8 L40.0,310.6 L41.5,308.6 L43.4,304.6 L45.0,306.8 L46.7,315.1 L48.0,322.8 L49.2,328.3 L50.5,334.0 L51.7,339.4 L53.0,343.5 L54.2,346.4 L56.7,346.4 L56.7,346.4 L104.6,346.4" fill="none" stroke="#2e3a6e" stroke-width="0.9" stroke-linejoin="round"/>
<path d="M10.5,355.0 L11.6,355.0 L11.6,353.0 L13.3,347.8 L15.0,343.3 L16.6,337.5 L18.3,331.1 L20.0,329.3 L21.7,327.1 L24.0,328.7 L26.7,328.3 L29.0,328.5 L31.7,327.4 L33.4,327.6 L35.0,326.3 L36.7,324.2 L38.4,320.8 L40.5,316.9 L42.6,314.2 L44.2,311.9 L45.5,317.5 L46.7,323.5 L48.0,329.4 L49.2,335.8 L51.7,348.0 L54.2,355.0 L55.5,355.0 L55.5,355.0 L104.6,355.0 Z" fill="#f5d2a8" stroke="none" opacity="0.86"/>
<path d="M10.5,355.0 L11.6,355.0 L11.6,353.0 L13.3,347.8 L15.0,343.3 L16.6,337.5 L18.3,331.1 L20.0,329.3 L21.7,327.1 L24.0,328.7 L26.7,328.3 L29.0,328.5 L31.7,327.4 L33.4,327.6 L35.0,326.3 L36.7,324.2 L38.4,320.8 L40.5,316.9 L42.6,314.2 L44.2,311.9 L45.5,317.5 L46.7,323.5 L48.0,329.4 L49.2,335.8 L51.7,348.0 L54.2,355.0 L55.5,355.0 L55.5,355.0 L104.6,355.0" fill="none" stroke="#dca860" stroke-width="0.9" stroke-linejoin="round"/>
<path d="M10.5,365.0 L11.6,365.0 L11.6,363.0 L13.3,359.2 L15.0,355.2 L16.6,352.6 L18.3,350.9 L20.0,349.8 L21.7,347.5 L23.5,348.7 L25.5,348.7 L28.4,349.9 L30.0,349.1 L31.7,348.1 L33.0,348.0 L35.0,346.3 L36.5,344.9 L38.4,341.7 L40.9,335.4 L42.6,327.8 L44.2,321.5 L45.3,325.9 L45.9,329.4 L47.0,329.4 L48.4,330.7 L50.1,341.4 L51.3,348.7 L52.6,356.3 L55.1,365.0 L56.0,365.0 L56.0,365.0 L104.6,365.0 Z" fill="#efb8d9" stroke="none" opacity="0.86"/>
<path d="M10.5,365.0 L11.6,365.0 L11.6,363.0 L13.3,359.2 L15.0,355.2 L16.6,352.6 L18.3,350.9 L20.0,349.8 L21.7,347.5 L23.5,348.7 L25.5,348.7 L28.4,349.9 L30.0,349.1 L31.7,348.1 L33.0,348.0 L35.0,346.3 L36.5,344.9 L38.4,341.7 L40.9,335.4 L42.6,327.8 L44.2,321.5 L45.3,325.9 L45.9,329.4 L47.0,329.4 L48.4,330.7 L50.1,341.4 L51.3,348.7 L52.6,356.3 L55.1,365.0 L56.0,365.0 L56.0,365.0 L104.6,365.0" fill="none" stroke="#b83a90" stroke-width="0.9" stroke-linejoin="round"/>
<path d="M10.5,374.0 L11.6,374.0 L11.6,371.5 L13.3,366.3 L15.0,361.5 L16.6,355.4 L18.3,349.9 L19.5,340.2 L20.3,332.4 L20.8,330.7 L21.3,336.5 L21.7,342.8 L23.4,351.0 L25.0,354.2 L26.5,353.5 L28.0,354.0 L29.9,354.0 L31.7,354.7 L33.4,352.3 L35.0,351.2 L36.7,349.0 L38.4,346.0 L40.0,343.8 L41.7,341.2 L44.2,338.9 L46.7,342.4 L49.2,351.1 L51.7,364.3 L54.2,374.0 L54.2,374.0 L104.6,374.0 Z" fill="#cde4b6" stroke="none" opacity="0.86"/>
<path d="M10.5,374.0 L11.6,374.0 L11.6,371.5 L13.3,366.3 L15.0,361.5 L16.6,355.4 L18.3,349.9 L19.5,340.2 L20.3,332.4 L20.8,330.7 L21.3,336.5 L21.7,342.8 L23.4,351.0 L25.0,354.2 L26.5,353.5 L28.0,354.0 L29.9,354.0 L31.7,354.7 L33.4,352.3 L35.0,351.2 L36.7,349.0 L38.4,346.0 L40.0,343.8 L41.7,341.2 L44.2,338.9 L46.7,342.4 L49.2,351.1 L51.7,364.3 L54.2,374.0 L54.2,374.0 L104.6,374.0" fill="none" stroke="#74a85c" stroke-width="0.9" stroke-linejoin="round"/>
<path d="M10.5,383.4 L11.6,383.4 L11.6,381.5 L13.3,375.6 L15.0,369.5 L16.6,363.9 L18.3,357.9 L19.3,351.7 L20.0,348.0 L20.8,349.8 L21.7,351.6 L23.5,353.2 L25.0,353.7 L27.0,353.5 L28.4,353.7 L30.0,354.8 L31.7,354.5 L33.5,352.8 L35.0,351.7 L36.7,349.1 L38.4,346.6 L40.0,344.1 L41.7,341.2 L44.2,339.6 L46.7,342.3 L49.2,351.6 L51.7,365.0 L54.2,376.6 L56.7,383.4 L58.0,383.4 L58.0,383.4 L104.6,383.4 Z" fill="#de9e95" stroke="none" opacity="0.86"/>
<path d="M10.5,383.4 L11.6,383.4 L11.6,381.5 L13.3,375.6 L15.0,369.5 L16.6,363.9 L18.3,357.9 L19.3,351.7 L20.0,348.0 L20.8,349.8 L21.7,351.6 L23.5,353.2 L25.0,353.7 L27.0,353.5 L28.4,353.7 L30.0,354.8 L31.7,354.5 L33.5,352.8 L35.0,351.7 L36.7,349.1 L38.4,346.6 L40.0,344.1 L41.7,341.2 L44.2,339.6 L46.7,342.3 L49.2,351.6 L51.7,365.0 L54.2,376.6 L56.7,383.4 L58.0,383.4 L58.0,383.4 L104.6,383.4" fill="none" stroke="#8a1e36" stroke-width="0.9" stroke-linejoin="round"/>
<path d="M10.5,392.1 L58.0,392.1 L58.0,392.1 L58.7,392.1 L59.4,392.1 L60.1,392.1 L60.8,392.1 L61.5,390.6 L62.2,389.8 L62.9,388.8 L63.6,387.5 L64.3,385.8 L65.0,383.7 L65.7,381.1 L66.4,378.2 L67.1,374.5 L67.8,370.9 L68.5,367.0 L69.2,362.9 L69.9,359.1 L70.6,355.4 L71.3,352.5 L72.0,350.2 L72.7,349.0 L73.4,348.6 L74.1,349.1 L74.8,350.8 L75.5,353.2 L76.2,356.6 L76.9,360.2 L77.6,363.9 L78.3,368.1 L79.0,371.9 L79.7,375.7 L80.4,378.9 L81.1,381.7 L81.8,384.4 L82.5,386.3 L83.2,387.9 L83.9,389.1 L84.6,390.1 L85.3,390.7 L86.0,392.1 L86.7,392.1 L87.4,392.1 L88.1,392.1 L88.8,392.1 L88.8,392.1 L104.6,392.1 Z" fill="#e2e2e4" stroke="none" opacity="0.86"/>
<path d="M10.5,392.1 L58.0,392.1 L58.0,392.1 L58.7,392.1 L59.4,392.1 L60.1,392.1 L60.8,392.1 L61.5,390.6 L62.2,389.8 L62.9,388.8 L63.6,387.5 L64.3,385.8 L65.0,383.7 L65.7,381.1 L66.4,378.2 L67.1,374.5 L67.8,370.9 L68.5,367.0 L69.2,362.9 L69.9,359.1 L70.6,355.4 L71.3,352.5 L72.0,350.2 L72.7,349.0 L73.4,348.6 L74.1,349.1 L74.8,350.8 L75.5,353.2 L76.2,356.6 L76.9,360.2 L77.6,363.9 L78.3,368.1 L79.0,371.9 L79.7,375.7 L80.4,378.9 L81.1,381.7 L81.8,384.4 L82.5,386.3 L83.2,387.9 L83.9,389.1 L84.6,390.1 L85.3,390.7 L86.0,392.1 L86.7,392.1 L87.4,392.1 L88.1,392.1 L88.8,392.1 L88.8,392.1 L104.6,392.1" fill="none" stroke="#282828" stroke-width="0.9" stroke-linejoin="round"/>
</g>
<g clip-path="url(#c10)">
<path d="M104.4,347.5 L105.8,347.5 L105.8,316.1 L106.5,312.1 L108.0,309.1 L109.0,307.4 L110.0,307.6 L110.7,306.1 L111.5,307.8 L112.3,306.6 L113.2,305.5 L114.0,308.7 L114.9,312.5 L116.0,316.9 L117.4,320.6 L119.9,325.5 L121.0,329.7 L122.4,331.6 L124.0,332.8 L125.7,334.3 L127.3,336.6 L129.0,337.9 L130.7,339.9 L132.4,341.5 L134.1,342.0 L135.7,343.2 L137.3,344.1 L139.0,344.7 L140.7,347.5 L140.7,347.5 L198.0,347.5 Z" fill="#b0b2da" stroke="none" opacity="1.0"/>
<path d="M104.4,347.5 L105.8,347.5 L105.8,316.1 L106.5,312.1 L108.0,309.1 L109.0,307.4 L110.0,307.6 L110.7,306.1 L111.5,307.8 L112.3,306.6 L113.2,305.5 L114.0,308.7 L114.9,312.5 L116.0,316.9 L117.4,320.6 L119.9,325.5 L121.0,329.7 L122.4,331.6 L124.0,332.8 L125.7,334.3 L127.3,336.6 L129.0,337.9 L130.7,339.9 L132.4,341.5 L134.1,342.0 L135.7,343.2 L137.3,344.1 L139.0,344.7 L140.7,347.5 L140.7,347.5 L198.0,347.5" fill="none" stroke="#2e3a6e" stroke-width="0.9" stroke-linejoin="round"/>
<path d="M104.4,356.4 L105.8,356.4 L105.8,356.4 L107.3,356.4 L108.8,356.4 L110.3,356.4 L111.8,356.4 L113.3,356.4 L114.9,356.4 L116.4,356.4 L117.9,356.4 L119.4,356.4 L120.9,356.4 L122.4,356.4 L123.9,356.4 L125.4,356.4 L126.9,356.4 L128.4,356.4 L130.0,356.4 L131.5,356.4 L133.0,356.4 L134.5,356.4 L136.0,356.4 L138.0,352.0 L139.9,346.4 L142.0,340.5 L143.5,335.0 L145.0,330.0 L146.5,325.1 L148.0,319.6 L150.5,315.0 L152.4,313.7 L154.0,315.4 L155.5,319.5 L157.4,327.8 L159.0,334.5 L160.8,341.8 L163.3,349.9 L165.0,354.6 L165.0,356.4 L198.0,356.4 Z" fill="#f5d2a8" stroke="none" opacity="1.0"/>
<path d="M104.4,356.4 L105.8,356.4 L105.8,356.4 L107.3,356.4 L108.8,356.4 L110.3,356.4 L111.8,356.4 L113.3,356.4 L114.9,356.4 L116.4,356.4 L117.9,356.4 L119.4,356.4 L120.9,356.4 L122.4,356.4 L123.9,356.4 L125.4,356.4 L126.9,356.4 L128.4,356.4 L130.0,356.4 L131.5,356.4 L133.0,356.4 L134.5,356.4 L136.0,356.4 L138.0,352.0 L139.9,346.4 L142.0,340.5 L143.5,335.0 L145.0,330.0 L146.5,325.1 L148.0,319.6 L150.5,315.0 L152.4,313.7 L154.0,315.4 L155.5,319.5 L157.4,327.8 L159.0,334.5 L160.8,341.8 L163.3,349.9 L165.0,354.6 L165.0,356.4 L198.0,356.4" fill="none" stroke="#dca860" stroke-width="0.9" stroke-linejoin="round"/>
<path d="M104.4,365.5 L105.8,365.5 L105.8,353.0 L107.5,343.2 L109.0,334.9 L110.3,328.5 L111.5,324.8 L113.2,324.5 L114.0,326.7 L114.9,331.8 L116.5,341.7 L118.0,348.1 L120.0,352.1 L121.5,353.2 L123.0,353.6 L124.5,354.9 L126.0,355.7 L127.5,356.8 L129.0,356.7 L130.5,357.7 L132.0,357.7 L133.5,358.6 L135.0,358.9 L136.7,359.3 L138.3,359.9 L140.0,359.8 L141.7,360.1 L143.3,360.9 L145.0,361.0 L146.8,361.3 L148.5,362.2 L150.2,362.5 L152.0,363.0 L153.6,363.5 L155.2,364.0 L156.8,364.5 L158.4,365.0 L160.0,365.5 L160.0,365.5 L198.0,365.5 Z" fill="#efb8d9" stroke="none" opacity="1.0"/>
<path d="M104.4,365.5 L105.8,365.5 L105.8,353.0 L107.5,343.2 L109.0,334.9 L110.3,328.5 L111.5,324.8 L113.2,324.5 L114.0,326.7 L114.9,331.8 L116.5,341.7 L118.0,348.1 L120.0,352.1 L121.5,353.2 L123.0,353.6 L124.5,354.9 L126.0,355.7 L127.5,356.8 L129.0,356.7 L130.5,357.7 L132.0,357.7 L133.5,358.6 L135.0,358.9 L136.7,359.3 L138.3,359.9 L140.0,359.8 L141.7,360.1 L143.3,360.9 L145.0,361.0 L146.8,361.3 L148.5,362.2 L150.2,362.5 L152.0,363.0 L153.6,363.5 L155.2,364.0 L156.8,364.5 L158.4,365.0 L160.0,365.5 L160.0,365.5 L198.0,365.5" fill="none" stroke="#b83a90" stroke-width="0.9" stroke-linejoin="round"/>
<path d="M104.4,374.5 L105.8,374.5 L105.8,365.8 L107.9,363.2 L110.0,360.2 L112.0,355.5 L114.0,349.6 L115.7,344.5 L117.4,339.2 L119.0,337.6 L120.7,335.9 L122.0,334.0 L123.2,332.2 L124.5,333.6 L125.5,334.2 L127.4,339.6 L129.9,343.6 L131.5,348.2 L134.0,355.3 L136.0,360.2 L138.0,364.7 L140.0,368.2 L142.0,371.1 L144.0,372.8 L146.0,374.5 L146.0,374.5 L198.0,374.5 Z" fill="#cde4b6" stroke="none" opacity="1.0"/>
<path d="M104.4,374.5 L105.8,374.5 L105.8,365.8 L107.9,363.2 L110.0,360.2 L112.0,355.5 L114.0,349.6 L115.7,344.5 L117.4,339.2 L119.0,337.6 L120.7,335.9 L122.0,334.0 L123.2,332.2 L124.5,333.6 L125.5,334.2 L127.4,339.6 L129.9,343.6 L131.5,348.2 L134.0,355.3 L136.0,360.2 L138.0,364.7 L140.0,368.2 L142.0,371.1 L144.0,372.8 L146.0,374.5 L146.0,374.5 L198.0,374.5" fill="none" stroke="#74a85c" stroke-width="0.9" stroke-linejoin="round"/>
<path d="M104.4,383.7 L105.8,383.7 L105.8,379.9 L107.4,374.1 L109.0,368.2 L110.7,362.6 L112.3,356.2 L114.0,351.2 L115.7,346.6 L118.2,342.3 L120.7,343.0 L122.3,344.9 L124.0,346.3 L125.7,348.3 L127.4,349.5 L129.9,351.2 L131.6,351.3 L133.2,350.5 L134.9,349.6 L136.6,349.1 L138.2,348.5 L139.9,347.8 L141.6,348.5 L143.2,349.0 L144.9,350.8 L146.6,353.2 L148.2,357.0 L149.9,361.3 L151.6,366.2 L153.2,371.3 L154.9,375.8 L156.6,379.8 L159.1,383.7 L159.1,383.7 L198.0,383.7 Z" fill="#de9e95" stroke="none" opacity="1.0"/>
<path d="M104.4,383.7 L105.8,383.7 L105.8,379.9 L107.4,374.1 L109.0,368.2 L110.7,362.6 L112.3,356.2 L114.0,351.2 L115.7,346.6 L118.2,342.3 L120.7,343.0 L122.3,344.9 L124.0,346.3 L125.7,348.3 L127.4,349.5 L129.9,351.2 L131.6,351.3 L133.2,350.5 L134.9,349.6 L136.6,349.1 L138.2,348.5 L139.9,347.8 L141.6,348.5 L143.2,349.0 L144.9,350.8 L146.6,353.2 L148.2,357.0 L149.9,361.3 L151.6,366.2 L153.2,371.3 L154.9,375.8 L156.6,379.8 L159.1,383.7 L159.1,383.7 L198.0,383.7" fill="none" stroke="#8a1e36" stroke-width="0.9" stroke-linejoin="round"/>
<path d="M104.4,392.1 L154.0,392.1 L154.0,392.1 L154.7,392.1 L155.4,392.1 L156.1,392.1 L156.8,392.1 L157.5,392.1 L158.2,390.4 L158.9,389.3 L159.6,387.9 L160.3,385.7 L161.0,383.2 L161.7,379.7 L162.4,375.9 L163.1,371.2 L163.8,366.6 L164.5,361.8 L165.2,357.4 L165.9,353.8 L166.6,351.1 L167.3,349.9 L168.0,350.3 L168.7,351.6 L169.4,354.1 L170.1,357.5 L170.8,361.7 L171.5,366.1 L172.2,370.4 L172.9,374.4 L173.6,378.4 L174.3,381.5 L175.0,384.3 L175.7,386.5 L176.4,388.2 L177.1,389.5 L177.8,390.4 L178.5,392.1 L179.2,392.1 L179.9,392.1 L180.6,392.1 L180.6,392.1 L198.0,392.1 Z" fill="#e2e2e4" stroke="none" opacity="1.0"/>
<path d="M104.4,392.1 L154.0,392.1 L154.0,392.1 L154.7,392.1 L155.4,392.1 L156.1,392.1 L156.8,392.1 L157.5,392.1 L158.2,390.4 L158.9,389.3 L159.6,387.9 L160.3,385.7 L161.0,383.2 L161.7,379.7 L162.4,375.9 L163.1,371.2 L163.8,366.6 L164.5,361.8 L165.2,357.4 L165.9,353.8 L166.6,351.1 L167.3,349.9 L168.0,350.3 L168.7,351.6 L169.4,354.1 L170.1,357.5 L170.8,361.7 L171.5,366.1 L172.2,370.4 L172.9,374.4 L173.6,378.4 L174.3,381.5 L175.0,384.3 L175.7,386.5 L176.4,388.2 L177.1,389.5 L177.8,390.4 L178.5,392.1 L179.2,392.1 L179.9,392.1 L180.6,392.1 L180.6,392.1 L198.0,392.1" fill="none" stroke="#282828" stroke-width="0.9" stroke-linejoin="round"/>
</g>
<g clip-path="url(#c11)">
<path d="M198.4,346.4 L200.0,346.4 L200.0,346.4 L201.5,339.3 L203.0,331.8 L205.5,318.5 L208.0,308.8 L210.0,302.2 L212.2,307.5 L213.9,318.8 L216.4,332.1 L218.9,339.8 L221.4,343.9 L223.9,346.4 L225.0,346.4 L225.0,346.4 L291.6,346.4 Z" fill="#b0b2da" stroke="none" opacity="0.86"/>
<path d="M198.4,346.4 L200.0,346.4 L200.0,346.4 L201.5,339.3 L203.0,331.8 L205.5,318.5 L208.0,308.8 L210.0,302.2 L212.2,307.5 L213.9,318.8 L216.4,332.1 L218.9,339.8 L221.4,343.9 L223.9,346.4 L225.0,346.4 L225.0,346.4 L291.6,346.4" fill="none" stroke="#2e3a6e" stroke-width="0.9" stroke-linejoin="round"/>
<path d="M198.4,355.0 L200.0,355.0 L200.0,352.5 L201.5,345.9 L203.0,339.9 L205.5,323.2 L208.0,313.9 L209.7,311.9 L212.2,316.8 L214.7,326.8 L217.2,336.4 L219.7,338.9 L222.2,342.8 L223.4,347.8 L223.9,355.0 L223.9,355.0 L291.6,355.0 Z" fill="#f5d2a8" stroke="none" opacity="0.86"/>
<path d="M198.4,355.0 L200.0,355.0 L200.0,352.5 L201.5,345.9 L203.0,339.9 L205.5,323.2 L208.0,313.9 L209.7,311.9 L212.2,316.8 L214.7,326.8 L217.2,336.4 L219.7,338.9 L222.2,342.8 L223.4,347.8 L223.9,355.0 L223.9,355.0 L291.6,355.0" fill="none" stroke="#dca860" stroke-width="0.9" stroke-linejoin="round"/>
<path d="M198.4,365.0 L200.0,365.0 L200.0,363.5 L201.6,360.2 L203.1,356.3 L204.7,352.6 L206.3,347.1 L208.0,339.3 L209.7,335.0 L211.4,331.6 L213.9,324.5 L215.0,321.0 L216.4,327.6 L217.2,345.3 L218.9,359.7 L220.5,365.0 L222.0,365.0 L222.0,365.0 L291.6,365.0 Z" fill="#efb8d9" stroke="none" opacity="0.86"/>
<path d="M198.4,365.0 L200.0,365.0 L200.0,363.5 L201.6,360.2 L203.1,356.3 L204.7,352.6 L206.3,347.1 L208.0,339.3 L209.7,335.0 L211.4,331.6 L213.9,324.5 L215.0,321.0 L216.4,327.6 L217.2,345.3 L218.9,359.7 L220.5,365.0 L222.0,365.0 L222.0,365.0 L291.6,365.0" fill="none" stroke="#b83a90" stroke-width="0.9" stroke-linejoin="round"/>
<path d="M198.4,374.0 L200.0,374.0 L200.0,372.5 L201.5,366.5 L203.0,360.4 L205.5,343.6 L207.2,330.0 L208.4,328.1 L209.7,336.3 L211.4,349.8 L213.9,361.0 L216.4,367.9 L218.1,369.8 L219.7,371.5 L221.4,372.3 L223.0,373.2 L224.7,374.0 L226.5,374.0 L228.2,374.0 L230.0,374.0 L230.0,374.0 L291.6,374.0 Z" fill="#cde4b6" stroke="none" opacity="0.86"/>
<path d="M198.4,374.0 L200.0,374.0 L200.0,372.5 L201.5,366.5 L203.0,360.4 L205.5,343.6 L207.2,330.0 L208.4,328.1 L209.7,336.3 L211.4,349.8 L213.9,361.0 L216.4,367.9 L218.1,369.8 L219.7,371.5 L221.4,372.3 L223.0,373.2 L224.7,374.0 L226.5,374.0 L228.2,374.0 L230.0,374.0 L230.0,374.0 L291.6,374.0" fill="none" stroke="#74a85c" stroke-width="0.9" stroke-linejoin="round"/>
<path d="M198.4,383.4 L232.0,383.4 L232.0,383.4 L232.6,379.0 L233.5,377.9 L236.4,376.4 L238.1,375.8 L239.7,374.7 L241.4,374.1 L243.1,372.4 L244.7,371.3 L246.4,369.6 L248.1,365.7 L249.8,361.6 L252.3,351.6 L254.8,343.1 L256.3,340.3 L257.6,339.7 L259.0,340.7 L260.5,346.0 L262.1,352.9 L263.8,360.6 L265.4,368.2 L267.7,381.0 L268.8,383.4 L268.8,383.4 L291.6,383.4 Z" fill="#de9e95" stroke="none" opacity="0.86"/>
<path d="M198.4,383.4 L232.0,383.4 L232.0,383.4 L232.6,379.0 L233.5,377.9 L236.4,376.4 L238.1,375.8 L239.7,374.7 L241.4,374.1 L243.1,372.4 L244.7,371.3 L246.4,369.6 L248.1,365.7 L249.8,361.6 L252.3,351.6 L254.8,343.1 L256.3,340.3 L257.6,339.7 L259.0,340.7 L260.5,346.0 L262.1,352.9 L263.8,360.6 L265.4,368.2 L267.7,381.0 L268.8,383.4 L268.8,383.4 L291.6,383.4" fill="none" stroke="#8a1e36" stroke-width="0.9" stroke-linejoin="round"/>
<path d="M198.4,392.1 L200.0,392.1 L200.0,392.1 L201.3,392.1 L203.0,387.0 L204.7,381.6 L207.2,361.5 L208.9,349.7 L210.0,348.2 L211.0,349.5 L212.2,354.7 L214.7,368.2 L217.2,379.7 L218.8,384.4 L220.5,389.0 L223.0,392.1 L224.5,392.1 L224.5,392.1 L291.6,392.1 Z" fill="#e2e2e4" stroke="none" opacity="0.86"/>
<path d="M198.4,392.1 L200.0,392.1 L200.0,392.1 L201.3,392.1 L203.0,387.0 L204.7,381.6 L207.2,361.5 L208.9,349.7 L210.0,348.2 L211.0,349.5 L212.2,354.7 L214.7,368.2 L217.2,379.7 L218.8,384.4 L220.5,389.0 L223.0,392.1 L224.5,392.1 L224.5,392.1 L291.6,392.1" fill="none" stroke="#282828" stroke-width="0.9" stroke-linejoin="round"/>
</g>
<g clip-path="url(#c12)">
<path d="M291.6,346.4 L342.5,346.4 L342.5,346.4 L343.2,335.1 L344.2,311.0 L345.0,305.4 L346.5,307.3 L347.5,304.4 L349.2,302.9 L350.0,304.8 L350.9,308.3 L352.0,310.9 L353.4,312.9 L355.5,320.9 L357.5,326.9 L359.5,330.5 L361.8,334.9 L363.5,339.7 L365.5,343.5 L368.0,346.4 L369.5,346.4 L371.0,346.4 L371.0,346.4 L385.3,346.4 Z" fill="#b0b2da" stroke="none" opacity="0.86"/>
<path d="M291.6,346.4 L342.5,346.4 L342.5,346.4 L343.2,335.1 L344.2,311.0 L345.0,305.4 L346.5,307.3 L347.5,304.4 L349.2,302.9 L350.0,304.8 L350.9,308.3 L352.0,310.9 L353.4,312.9 L355.5,320.9 L357.5,326.9 L359.5,330.5 L361.8,334.9 L363.5,339.7 L365.5,343.5 L368.0,346.4 L369.5,346.4 L371.0,346.4 L371.0,346.4 L385.3,346.4" fill="none" stroke="#2e3a6e" stroke-width="0.9" stroke-linejoin="round"/>
<path d="M291.6,355.0 L308.0,355.0 L308.0,355.0 L309.8,354.4 L311.6,353.7 L313.4,353.1 L315.0,352.3 L316.7,351.3 L318.4,350.5 L320.0,349.8 L321.7,348.0 L323.3,345.7 L325.0,343.7 L326.7,339.0 L328.3,335.0 L330.0,329.6 L331.7,325.1 L333.4,319.9 L335.0,315.9 L336.7,313.0 L338.4,312.5 L340.0,312.1 L342.6,315.3 L344.2,320.9 L346.7,334.1 L349.2,345.1 L351.8,351.4 L353.5,353.2 L355.1,355.0 L356.7,355.0 L358.4,355.0 L360.0,355.0 L360.0,355.0 L385.3,355.0 Z" fill="#f5d2a8" stroke="none" opacity="0.86"/>
<path d="M291.6,355.0 L308.0,355.0 L308.0,355.0 L309.8,354.4 L311.6,353.7 L313.4,353.1 L315.0,352.3 L316.7,351.3 L318.4,350.5 L320.0,349.8 L321.7,348.0 L323.3,345.7 L325.0,343.7 L326.7,339.0 L328.3,335.0 L330.0,329.6 L331.7,325.1 L333.4,319.9 L335.0,315.9 L336.7,313.0 L338.4,312.5 L340.0,312.1 L342.6,315.3 L344.2,320.9 L346.7,334.1 L349.2,345.1 L351.8,351.4 L353.5,353.2 L355.1,355.0 L356.7,355.0 L358.4,355.0 L360.0,355.0 L360.0,355.0 L385.3,355.0" fill="none" stroke="#dca860" stroke-width="0.9" stroke-linejoin="round"/>
<path d="M291.6,365.0 L320.0,365.0 L320.0,365.0 L321.5,363.2 L323.0,361.4 L324.5,359.6 L326.0,357.9 L328.0,352.0 L330.0,345.0 L331.7,338.5 L333.4,330.8 L335.9,324.7 L337.0,323.5 L338.1,321.4 L339.0,323.6 L340.0,324.4 L341.0,322.8 L341.7,324.0 L343.7,330.1 L345.9,332.6 L348.4,339.0 L350.9,350.1 L353.4,358.3 L355.1,360.4 L356.8,362.3 L358.5,363.6 L360.1,365.0 L363.0,365.0 L363.0,365.0 L385.3,365.0 Z" fill="#efb8d9" stroke="none" opacity="0.86"/>
<path d="M291.6,365.0 L320.0,365.0 L320.0,365.0 L321.5,363.2 L323.0,361.4 L324.5,359.6 L326.0,357.9 L328.0,352.0 L330.0,345.0 L331.7,338.5 L333.4,330.8 L335.9,324.7 L337.0,323.5 L338.1,321.4 L339.0,323.6 L340.0,324.4 L341.0,322.8 L341.7,324.0 L343.7,330.1 L345.9,332.6 L348.4,339.0 L350.9,350.1 L353.4,358.3 L355.1,360.4 L356.8,362.3 L358.5,363.6 L360.1,365.0 L363.0,365.0 L363.0,365.0 L385.3,365.0" fill="none" stroke="#b83a90" stroke-width="0.9" stroke-linejoin="round"/>
<path d="M291.6,374.0 L308.3,374.0 L308.3,374.0 L310.0,368.1 L312.5,361.6 L314.2,360.2 L315.9,357.8 L317.9,355.8 L320.0,353.6 L321.7,351.2 L323.4,347.7 L325.5,344.2 L327.5,338.3 L329.2,333.9 L331.7,332.9 L333.0,331.0 L335.1,330.5 L336.5,332.6 L338.4,334.1 L340.0,334.7 L341.7,336.1 L344.2,341.4 L346.7,345.8 L349.2,355.0 L351.8,365.0 L354.3,369.8 L356.8,372.3 L358.4,373.1 L360.0,374.0 L360.0,374.0 L385.3,374.0 Z" fill="#cde4b6" stroke="none" opacity="0.86"/>
<path d="M291.6,374.0 L308.3,374.0 L308.3,374.0 L310.0,368.1 L312.5,361.6 L314.2,360.2 L315.9,357.8 L317.9,355.8 L320.0,353.6 L321.7,351.2 L323.4,347.7 L325.5,344.2 L327.5,338.3 L329.2,333.9 L331.7,332.9 L333.0,331.0 L335.1,330.5 L336.5,332.6 L338.4,334.1 L340.0,334.7 L341.7,336.1 L344.2,341.4 L346.7,345.8 L349.2,355.0 L351.8,365.0 L354.3,369.8 L356.8,372.3 L358.4,373.1 L360.0,374.0 L360.0,374.0 L385.3,374.0" fill="none" stroke="#74a85c" stroke-width="0.9" stroke-linejoin="round"/>
<path d="M291.6,383.4 L293.0,383.4 L293.0,383.4 L294.8,382.9 L296.5,382.4 L298.2,382.0 L300.0,381.5 L301.7,380.6 L303.4,379.8 L305.0,379.0 L306.7,378.2 L308.4,377.0 L310.0,375.7 L311.7,374.3 L313.4,373.3 L315.1,370.3 L316.7,367.4 L318.4,364.5 L320.0,358.1 L321.7,351.2 L323.4,347.1 L325.0,343.2 L327.5,340.8 L330.0,343.3 L332.6,347.8 L334.6,351.9 L336.7,356.2 L338.4,358.4 L340.0,360.6 L341.7,362.5 L343.4,363.7 L345.0,364.6 L346.7,365.7 L348.4,366.3 L350.1,367.2 L351.8,367.9 L353.4,369.0 L355.1,371.1 L356.8,373.1 L358.5,375.6 L360.1,378.1 L363.0,381.5 L365.0,383.4 L365.0,383.4 L385.3,383.4 Z" fill="#de9e95" stroke="none" opacity="0.86"/>
<path d="M291.6,383.4 L293.0,383.4 L293.0,383.4 L294.8,382.9 L296.5,382.4 L298.2,382.0 L300.0,381.5 L301.7,380.6 L303.4,379.8 L305.0,379.0 L306.7,378.2 L308.4,377.0 L310.0,375.7 L311.7,374.3 L313.4,373.3 L315.1,370.3 L316.7,367.4 L318.4,364.5 L320.0,358.1 L321.7,351.2 L323.4,347.1 L325.0,343.2 L327.5,340.8 L330.0,343.3 L332.6,347.8 L334.6,351.9 L336.7,356.2 L338.4,358.4 L340.0,360.6 L341.7,362.5 L343.4,363.7 L345.0,364.6 L346.7,365.7 L348.4,366.3 L350.1,367.2 L351.8,367.9 L353.4,369.0 L355.1,371.1 L356.8,373.1 L358.5,375.6 L360.1,378.1 L363.0,381.5 L365.0,383.4 L365.0,383.4 L385.3,383.4" fill="none" stroke="#8a1e36" stroke-width="0.9" stroke-linejoin="round"/>
<path d="M291.6,392.1 L310.0,392.1 L310.0,392.1 L311.7,390.1 L313.4,388.1 L315.1,384.3 L316.7,380.4 L318.4,376.6 L320.0,370.6 L321.7,364.9 L323.4,359.0 L325.0,353.2 L327.0,349.0 L328.7,349.9 L330.9,358.0 L333.4,371.5 L335.9,383.1 L338.4,390.7 L340.0,392.1 L340.0,392.1 L385.3,392.1 Z" fill="#e2e2e4" stroke="none" opacity="0.86"/>
<path d="M291.6,392.1 L310.0,392.1 L310.0,392.1 L311.7,390.1 L313.4,388.1 L315.1,384.3 L316.7,380.4 L318.4,376.6 L320.0,370.6 L321.7,364.9 L323.4,359.0 L325.0,353.2 L327.0,349.0 L328.7,349.9 L330.9,358.0 L333.4,371.5 L335.9,383.1 L338.4,390.7 L340.0,392.1 L340.0,392.1 L385.3,392.1" fill="none" stroke="#282828" stroke-width="0.9" stroke-linejoin="round"/>
</g>
<g clip-path="url(#c13)">
<path d="M10.5,476.4 L36.7,476.4 L36.7,476.4 L38.4,475.7 L40.0,475.0 L41.7,474.1 L43.4,473.0 L45.0,470.0 L46.7,465.1 L48.0,457.4 L49.2,450.1 L50.9,441.3 L52.0,437.6 L52.6,435.1 L53.1,434.7 L53.6,434.4 L54.2,435.4 L55.9,442.2 L57.6,450.5 L60.1,459.4 L62.6,467.9 L65.1,474.7 L67.6,476.4 L67.6,476.4 L104.6,476.4 Z" fill="#b0b2da" stroke="none" opacity="0.86"/>
<path d="M10.5,476.4 L36.7,476.4 L36.7,476.4 L38.4,475.7 L40.0,475.0 L41.7,474.1 L43.4,473.0 L45.0,470.0 L46.7,465.1 L48.0,457.4 L49.2,450.1 L50.9,441.3 L52.0,437.6 L52.6,435.1 L53.1,434.7 L53.6,434.4 L54.2,435.4 L55.9,442.2 L57.6,450.5 L60.1,459.4 L62.6,467.9 L65.1,474.7 L67.6,476.4 L67.6,476.4 L104.6,476.4" fill="none" stroke="#2e3a6e" stroke-width="0.9" stroke-linejoin="round"/>
<path d="M10.5,484.9 L47.5,484.9 L47.5,484.9 L48.4,478.0 L49.2,461.6 L50.1,453.6 L51.7,445.2 L53.4,442.2 L55.1,444.9 L57.6,456.1 L60.1,469.4 L62.6,479.7 L64.3,484.9 L65.5,484.9 L65.5,484.9 L104.6,484.9 Z" fill="#f5d2a8" stroke="none" opacity="0.86"/>
<path d="M10.5,484.9 L47.5,484.9 L47.5,484.9 L48.4,478.0 L49.2,461.6 L50.1,453.6 L51.7,445.2 L53.4,442.2 L55.1,444.9 L57.6,456.1 L60.1,469.4 L62.6,479.7 L64.3,484.9 L65.5,484.9 L65.5,484.9 L104.6,484.9" fill="none" stroke="#dca860" stroke-width="0.9" stroke-linejoin="round"/>
<path d="M10.5,494.9 L12.2,494.9 L12.2,494.9 L13.8,494.2 L15.3,493.5 L16.9,492.8 L18.4,492.1 L20.0,491.3 L22.0,491.0 L24.0,490.4 L26.7,489.9 L29.0,488.6 L31.7,487.2 L33.4,485.3 L35.0,483.2 L37.5,475.8 L39.2,468.1 L41.7,459.9 L44.2,452.2 L45.9,454.4 L47.6,461.7 L49.2,469.5 L51.7,476.0 L54.2,482.7 L56.7,490.7 L59.2,492.3 L61.8,494.9 L63.0,494.9 L63.0,494.9 L104.6,494.9 Z" fill="#efb8d9" stroke="none" opacity="0.86"/>
<path d="M10.5,494.9 L12.2,494.9 L12.2,494.9 L13.8,494.2 L15.3,493.5 L16.9,492.8 L18.4,492.1 L20.0,491.3 L22.0,491.0 L24.0,490.4 L26.7,489.9 L29.0,488.6 L31.7,487.2 L33.4,485.3 L35.0,483.2 L37.5,475.8 L39.2,468.1 L41.7,459.9 L44.2,452.2 L45.9,454.4 L47.6,461.7 L49.2,469.5 L51.7,476.0 L54.2,482.7 L56.7,490.7 L59.2,492.3 L61.8,494.9 L63.0,494.9 L63.0,494.9 L104.6,494.9" fill="none" stroke="#b83a90" stroke-width="0.9" stroke-linejoin="round"/>
<path d="M10.5,503.9 L61.0,503.9 L61.0,503.9 L61.7,503.9 L62.4,503.9 L63.1,503.9 L63.8,501.9 L64.5,500.2 L65.2,497.1 L65.9,493.1 L66.6,487.6 L67.3,480.2 L68.0,473.0 L68.7,467.3 L69.4,462.0 L70.1,460.4 L70.8,462.2 L71.5,466.1 L72.2,471.1 L72.9,478.0 L73.6,485.1 L74.3,491.8 L75.0,495.7 L75.7,499.2 L76.4,501.5 L77.1,503.9 L77.8,503.9 L78.5,503.9 L78.5,503.9 L104.6,503.9 Z" fill="#cde4b6" stroke="none" opacity="0.86"/>
<path d="M10.5,503.9 L61.0,503.9 L61.0,503.9 L61.7,503.9 L62.4,503.9 L63.1,503.9 L63.8,501.9 L64.5,500.2 L65.2,497.1 L65.9,493.1 L66.6,487.6 L67.3,480.2 L68.0,473.0 L68.7,467.3 L69.4,462.0 L70.1,460.4 L70.8,462.2 L71.5,466.1 L72.2,471.1 L72.9,478.0 L73.6,485.1 L74.3,491.8 L75.0,495.7 L75.7,499.2 L76.4,501.5 L77.1,503.9 L77.8,503.9 L78.5,503.9 L78.5,503.9 L104.6,503.9" fill="none" stroke="#74a85c" stroke-width="0.9" stroke-linejoin="round"/>
<path d="M10.5,513.4 L12.2,513.4 L12.2,510.6 L13.8,510.2 L15.3,509.7 L16.9,509.1 L18.4,508.5 L20.0,508.1 L21.7,507.3 L23.4,506.5 L25.0,505.4 L26.7,504.7 L28.4,502.8 L30.0,500.1 L31.7,498.2 L33.4,494.1 L35.0,490.4 L36.7,486.7 L38.4,481.5 L40.0,476.3 L42.6,470.5 L44.2,470.7 L45.9,474.8 L48.4,484.7 L50.0,488.9 L51.7,493.1 L54.2,497.9 L56.7,499.6 L59.2,503.1 L61.8,508.0 L64.3,513.4 L65.5,513.4 L65.5,513.4 L104.6,513.4 Z" fill="#de9e95" stroke="none" opacity="0.86"/>
<path d="M10.5,513.4 L12.2,513.4 L12.2,510.6 L13.8,510.2 L15.3,509.7 L16.9,509.1 L18.4,508.5 L20.0,508.1 L21.7,507.3 L23.4,506.5 L25.0,505.4 L26.7,504.7 L28.4,502.8 L30.0,500.1 L31.7,498.2 L33.4,494.1 L35.0,490.4 L36.7,486.7 L38.4,481.5 L40.0,476.3 L42.6,470.5 L44.2,470.7 L45.9,474.8 L48.4,484.7 L50.0,488.9 L51.7,493.1 L54.2,497.9 L56.7,499.6 L59.2,503.1 L61.8,508.0 L64.3,513.4 L65.5,513.4 L65.5,513.4 L104.6,513.4" fill="none" stroke="#8a1e36" stroke-width="0.9" stroke-linejoin="round"/>
<path d="M10.5,522.1 L25.0,522.1 L25.0,522.1 L26.7,521.8 L28.4,521.4 L30.0,521.1 L31.7,520.7 L33.4,519.3 L35.0,517.9 L36.7,516.5 L38.8,512.4 L40.9,508.2 L43.4,498.0 L45.9,484.9 L47.0,481.0 L48.1,478.8 L49.0,479.5 L50.1,481.5 L51.7,491.3 L53.4,504.8 L55.1,516.5 L56.7,522.1 L58.0,522.1 L58.0,522.1 L104.6,522.1 Z" fill="#e2e2e4" stroke="none" opacity="0.86"/>
<path d="M10.5,522.1 L25.0,522.1 L25.0,522.1 L26.7,521.8 L28.4,521.4 L30.0,521.1 L31.7,520.7 L33.4,519.3 L35.0,517.9 L36.7,516.5 L38.8,512.4 L40.9,508.2 L43.4,498.0 L45.9,484.9 L47.0,481.0 L48.1,478.8 L49.0,479.5 L50.1,481.5 L51.7,491.3 L53.4,504.8 L55.1,516.5 L56.7,522.1 L58.0,522.1 L58.0,522.1 L104.6,522.1" fill="none" stroke="#282828" stroke-width="0.9" stroke-linejoin="round"/>
</g>
<g clip-path="url(#c14)">
<path d="M104.4,476.4 L152.4,476.4 L152.4,476.4 L154.1,465.3 L156.6,454.5 L159.1,445.3 L161.6,435.0 L163.8,432.7 L165.8,434.3 L168.3,439.8 L170.8,447.2 L173.3,456.2 L175.8,464.4 L178.3,471.1 L180.8,474.7 L183.3,476.4 L185.0,476.4 L185.0,476.4 L198.0,476.4 Z" fill="#b0b2da" stroke="none" opacity="0.86"/>
<path d="M104.4,476.4 L152.4,476.4 L152.4,476.4 L154.1,465.3 L156.6,454.5 L159.1,445.3 L161.6,435.0 L163.8,432.7 L165.8,434.3 L168.3,439.8 L170.8,447.2 L173.3,456.2 L175.8,464.4 L178.3,471.1 L180.8,474.7 L183.3,476.4 L185.0,476.4 L185.0,476.4 L198.0,476.4" fill="none" stroke="#2e3a6e" stroke-width="0.9" stroke-linejoin="round"/>
<path d="M104.4,484.9 L159.1,484.9 L159.1,484.9 L161.6,475.0 L164.1,457.7 L166.6,446.9 L169.1,441.4 L170.8,442.1 L172.4,449.8 L174.1,459.3 L175.8,469.3 L178.3,478.1 L180.8,483.1 L183.3,484.9 L185.0,484.9 L185.0,484.9 L198.0,484.9 Z" fill="#f5d2a8" stroke="none" opacity="0.86"/>
<path d="M104.4,484.9 L159.1,484.9 L159.1,484.9 L161.6,475.0 L164.1,457.7 L166.6,446.9 L169.1,441.4 L170.8,442.1 L172.4,449.8 L174.1,459.3 L175.8,469.3 L178.3,478.1 L180.8,483.1 L183.3,484.9 L185.0,484.9 L185.0,484.9 L198.0,484.9" fill="none" stroke="#dca860" stroke-width="0.9" stroke-linejoin="round"/>
<path d="M104.4,494.9 L125.7,494.9 L125.7,494.9 L127.3,493.1 L129.0,491.4 L130.7,489.8 L132.4,488.2 L134.1,485.8 L135.7,483.5 L138.2,478.5 L140.7,469.2 L143.2,461.0 L144.9,457.1 L146.6,456.2 L148.2,451.1 L149.9,455.0 L151.6,461.4 L153.2,467.9 L155.8,476.0 L158.3,481.5 L159.9,485.2 L161.6,489.6 L164.1,494.9 L165.5,494.9 L165.5,494.9 L198.0,494.9 Z" fill="#efb8d9" stroke="none" opacity="0.86"/>
<path d="M104.4,494.9 L125.7,494.9 L125.7,494.9 L127.3,493.1 L129.0,491.4 L130.7,489.8 L132.4,488.2 L134.1,485.8 L135.7,483.5 L138.2,478.5 L140.7,469.2 L143.2,461.0 L144.9,457.1 L146.6,456.2 L148.2,451.1 L149.9,455.0 L151.6,461.4 L153.2,467.9 L155.8,476.0 L158.3,481.5 L159.9,485.2 L161.6,489.6 L164.1,494.9 L165.5,494.9 L165.5,494.9 L198.0,494.9" fill="none" stroke="#b83a90" stroke-width="0.9" stroke-linejoin="round"/>
<path d="M104.4,503.9 L105.8,503.9 L105.8,503.9 L107.4,502.7 L109.0,501.5 L110.5,501.0 L112.0,500.4 L114.0,499.9 L115.5,499.5 L117.0,498.8 L119.0,498.9 L120.5,498.3 L122.0,498.2 L124.0,497.5 L125.7,495.9 L127.4,494.9 L129.1,492.3 L130.7,489.5 L132.4,487.2 L134.1,484.7 L136.6,479.8 L138.2,473.7 L139.9,466.7 L141.6,463.3 L144.1,462.9 L145.7,462.9 L147.4,464.3 L149.1,469.8 L150.7,480.0 L152.4,488.4 L154.9,496.2 L157.4,501.5 L159.9,503.9 L159.9,503.9 L198.0,503.9 Z" fill="#cde4b6" stroke="none" opacity="0.86"/>
<path d="M104.4,503.9 L105.8,503.9 L105.8,503.9 L107.4,502.7 L109.0,501.5 L110.5,501.0 L112.0,500.4 L114.0,499.9 L115.5,499.5 L117.0,498.8 L119.0,498.9 L120.5,498.3 L122.0,498.2 L124.0,497.5 L125.7,495.9 L127.4,494.9 L129.1,492.3 L130.7,489.5 L132.4,487.2 L134.1,484.7 L136.6,479.8 L138.2,473.7 L139.9,466.7 L141.6,463.3 L144.1,462.9 L145.7,462.9 L147.4,464.3 L149.1,469.8 L150.7,480.0 L152.4,488.4 L154.9,496.2 L157.4,501.5 L159.9,503.9 L159.9,503.9 L198.0,503.9" fill="none" stroke="#74a85c" stroke-width="0.9" stroke-linejoin="round"/>
<path d="M104.4,513.4 L159.1,513.4 L159.1,513.4 L160.8,494.6 L162.4,481.1 L164.1,471.5 L166.1,468.7 L168.3,472.3 L170.8,481.2 L173.3,493.4 L175.8,503.2 L178.3,509.8 L180.8,513.4 L182.5,513.4 L182.5,513.4 L198.0,513.4 Z" fill="#de9e95" stroke="none" opacity="0.86"/>
<path d="M104.4,513.4 L159.1,513.4 L159.1,513.4 L160.8,494.6 L162.4,481.1 L164.1,471.5 L166.1,468.7 L168.3,472.3 L170.8,481.2 L173.3,493.4 L175.8,503.2 L178.3,509.8 L180.8,513.4 L182.5,513.4 L182.5,513.4 L198.0,513.4" fill="none" stroke="#8a1e36" stroke-width="0.9" stroke-linejoin="round"/>
<path d="M104.4,522.1 L136.0,522.1 L136.0,522.1 L137.4,522.1 L139.1,520.8 L140.7,519.4 L142.4,518.1 L144.5,513.0 L146.6,508.0 L148.2,501.3 L149.9,494.9 L152.4,483.2 L154.1,478.5 L155.8,479.9 L157.4,488.1 L159.9,503.2 L162.4,516.5 L164.9,522.1 L166.0,522.1 L166.0,522.1 L198.0,522.1 Z" fill="#e2e2e4" stroke="none" opacity="0.86"/>
<path d="M104.4,522.1 L136.0,522.1 L136.0,522.1 L137.4,522.1 L139.1,520.8 L140.7,519.4 L142.4,518.1 L144.5,513.0 L146.6,508.0 L148.2,501.3 L149.9,494.9 L152.4,483.2 L154.1,478.5 L155.8,479.9 L157.4,488.1 L159.9,503.2 L162.4,516.5 L164.9,522.1 L166.0,522.1 L166.0,522.1 L198.0,522.1" fill="none" stroke="#282828" stroke-width="0.9" stroke-linejoin="round"/>
</g>
<g clip-path="url(#c15)">
<path d="M198.4,476.4 L225.5,476.4 L225.5,476.4 L226.0,466.0 L226.4,457.4 L227.2,444.8 L229.7,441.7 L231.4,439.9 L233.9,438.8 L235.0,435.7 L236.4,436.1 L237.5,434.0 L238.9,432.5 L240.0,434.7 L241.4,435.2 L242.5,434.3 L243.9,434.2 L245.0,435.7 L246.4,436.5 L248.9,440.1 L251.4,445.9 L253.9,453.0 L256.4,458.9 L258.9,464.1 L261.4,469.5 L263.9,473.3 L266.4,476.4 L268.1,476.4 L268.1,476.4 L291.6,476.4 Z" fill="#b0b2da" stroke="none" opacity="0.86"/>
<path d="M198.4,476.4 L225.5,476.4 L225.5,476.4 L226.0,466.0 L226.4,457.4 L227.2,444.8 L229.7,441.7 L231.4,439.9 L233.9,438.8 L235.0,435.7 L236.4,436.1 L237.5,434.0 L238.9,432.5 L240.0,434.7 L241.4,435.2 L242.5,434.3 L243.9,434.2 L245.0,435.7 L246.4,436.5 L248.9,440.1 L251.4,445.9 L253.9,453.0 L256.4,458.9 L258.9,464.1 L261.4,469.5 L263.9,473.3 L266.4,476.4 L268.1,476.4 L268.1,476.4 L291.6,476.4" fill="none" stroke="#2e3a6e" stroke-width="0.9" stroke-linejoin="round"/>
<path d="M198.4,484.9 L200.0,484.9 L200.0,482.0 L202.2,467.6 L204.7,454.8 L207.2,444.6 L208.9,442.7 L210.5,444.8 L212.2,451.4 L213.9,461.9 L215.5,469.4 L218.0,478.3 L220.5,483.1 L223.0,484.9 L224.5,484.9 L224.5,484.9 L291.6,484.9 Z" fill="#f5d2a8" stroke="none" opacity="0.86"/>
<path d="M198.4,484.9 L200.0,484.9 L200.0,482.0 L202.2,467.6 L204.7,454.8 L207.2,444.6 L208.9,442.7 L210.5,444.8 L212.2,451.4 L213.9,461.9 L215.5,469.4 L218.0,478.3 L220.5,483.1 L223.0,484.9 L224.5,484.9 L224.5,484.9 L291.6,484.9" fill="none" stroke="#dca860" stroke-width="0.9" stroke-linejoin="round"/>
<path d="M198.4,494.9 L200.0,494.9 L200.0,493.5 L202.2,481.4 L204.7,466.5 L207.2,454.4 L208.9,452.0 L210.5,453.3 L212.2,461.8 L214.7,474.6 L217.2,485.1 L219.7,490.7 L221.4,491.4 L223.9,491.3 L226.4,492.3 L228.9,494.9 L228.9,494.9 L291.6,494.9 Z" fill="#efb8d9" stroke="none" opacity="0.86"/>
<path d="M198.4,494.9 L200.0,494.9 L200.0,493.5 L202.2,481.4 L204.7,466.5 L207.2,454.4 L208.9,452.0 L210.5,453.3 L212.2,461.8 L214.7,474.6 L217.2,485.1 L219.7,490.7 L221.4,491.4 L223.9,491.3 L226.4,492.3 L228.9,494.9 L228.9,494.9 L291.6,494.9" fill="none" stroke="#b83a90" stroke-width="0.9" stroke-linejoin="round"/>
<path d="M198.4,503.9 L200.0,503.9 L200.0,502.0 L201.5,495.6 L203.0,489.3 L205.5,476.3 L208.0,464.2 L209.7,462.0 L211.4,462.5 L213.9,471.5 L216.4,482.9 L218.9,493.5 L221.4,499.7 L223.1,501.9 L224.7,503.9 L227.0,503.9 L227.0,503.9 L291.6,503.9 Z" fill="#cde4b6" stroke="none" opacity="0.86"/>
<path d="M198.4,503.9 L200.0,503.9 L200.0,502.0 L201.5,495.6 L203.0,489.3 L205.5,476.3 L208.0,464.2 L209.7,462.0 L211.4,462.5 L213.9,471.5 L216.4,482.9 L218.9,493.5 L221.4,499.7 L223.1,501.9 L224.7,503.9 L227.0,503.9 L227.0,503.9 L291.6,503.9" fill="none" stroke="#74a85c" stroke-width="0.9" stroke-linejoin="round"/>
<path d="M198.4,513.4 L200.0,513.4 L200.0,512.0 L202.2,498.4 L204.7,479.8 L207.2,470.4 L208.9,470.0 L210.5,472.1 L213.0,481.6 L215.5,492.8 L218.0,502.9 L220.5,509.9 L223.0,511.5 L224.8,512.0 L226.5,512.5 L228.2,512.9 L230.0,513.4 L231.6,513.4 L233.2,513.4 L234.8,513.4 L236.4,513.4 L238.0,513.4 L238.0,513.4 L291.6,513.4 Z" fill="#de9e95" stroke="none" opacity="0.86"/>
<path d="M198.4,513.4 L200.0,513.4 L200.0,512.0 L202.2,498.4 L204.7,479.8 L207.2,470.4 L208.9,470.0 L210.5,472.1 L213.0,481.6 L215.5,492.8 L218.0,502.9 L220.5,509.9 L223.0,511.5 L224.8,512.0 L226.5,512.5 L228.2,512.9 L230.0,513.4 L231.6,513.4 L233.2,513.4 L234.8,513.4 L236.4,513.4 L238.0,513.4 L238.0,513.4 L291.6,513.4" fill="none" stroke="#8a1e36" stroke-width="0.9" stroke-linejoin="round"/>
<path d="M198.4,522.1 L200.0,522.1 L200.0,520.5 L202.2,508.2 L204.7,494.7 L207.2,483.2 L209.7,478.8 L211.4,481.5 L213.9,491.4 L216.4,504.8 L218.9,514.8 L221.4,520.7 L223.5,522.1 L223.5,522.1 L291.6,522.1 Z" fill="#e2e2e4" stroke="none" opacity="0.86"/>
<path d="M198.4,522.1 L200.0,522.1 L200.0,520.5 L202.2,508.2 L204.7,494.7 L207.2,483.2 L209.7,478.8 L211.4,481.5 L213.9,491.4 L216.4,504.8 L218.9,514.8 L221.4,520.7 L223.5,522.1 L223.5,522.1 L291.6,522.1" fill="none" stroke="#282828" stroke-width="0.9" stroke-linejoin="round"/>
</g>
<g clip-path="url(#c16)">
<path d="M291.6,476.4 L297.0,476.4 L297.0,476.4 L298.6,474.8 L300.3,473.1 L302.9,464.4 L305.4,453.5 L307.9,442.0 L310.4,435.0 L311.2,432.1 L312.0,433.0 L312.8,432.2 L313.7,434.7 L315.4,438.3 L317.0,444.8 L319.5,455.0 L322.0,462.4 L323.7,465.9 L325.4,468.3 L327.9,471.2 L330.4,474.7 L332.0,475.5 L333.7,476.4 L335.0,476.4 L335.0,476.4 L385.3,476.4 Z" fill="#b0b2da" stroke="none" opacity="0.86"/>
<path d="M291.6,476.4 L297.0,476.4 L297.0,476.4 L298.6,474.8 L300.3,473.1 L302.9,464.4 L305.4,453.5 L307.9,442.0 L310.4,435.0 L311.2,432.1 L312.0,433.0 L312.8,432.2 L313.7,434.7 L315.4,438.3 L317.0,444.8 L319.5,455.0 L322.0,462.4 L323.7,465.9 L325.4,468.3 L327.9,471.2 L330.4,474.7 L332.0,475.5 L333.7,476.4 L335.0,476.4 L335.0,476.4 L385.3,476.4" fill="none" stroke="#2e3a6e" stroke-width="0.9" stroke-linejoin="round"/>
<path d="M291.6,484.9 L309.5,484.9 L309.5,484.9 L310.4,484.9 L312.9,469.5 L315.4,455.0 L317.9,443.4 L319.5,441.9 L321.2,444.6 L322.9,455.2 L324.6,464.5 L326.2,473.2 L328.7,479.6 L330.4,482.4 L332.1,484.9 L333.8,484.9 L335.4,484.9 L337.0,484.9 L337.0,484.9 L385.3,484.9 Z" fill="#f5d2a8" stroke="none" opacity="0.86"/>
<path d="M291.6,484.9 L309.5,484.9 L309.5,484.9 L310.4,484.9 L312.9,469.5 L315.4,455.0 L317.9,443.4 L319.5,441.9 L321.2,444.6 L322.9,455.2 L324.6,464.5 L326.2,473.2 L328.7,479.6 L330.4,482.4 L332.1,484.9 L333.8,484.9 L335.4,484.9 L337.0,484.9 L337.0,484.9 L385.3,484.9" fill="none" stroke="#dca860" stroke-width="0.9" stroke-linejoin="round"/>
<path d="M291.6,494.9 L333.7,494.9 L333.7,494.9 L336.2,489.8 L338.7,483.0 L341.2,470.3 L342.9,457.0 L344.6,451.1 L345.3,451.5 L346.3,452.8 L347.9,461.9 L349.1,474.0 L350.4,485.3 L352.1,492.3 L354.6,494.9 L356.0,494.9 L356.0,494.9 L385.3,494.9 Z" fill="#efb8d9" stroke="none" opacity="0.86"/>
<path d="M291.6,494.9 L333.7,494.9 L333.7,494.9 L336.2,489.8 L338.7,483.0 L341.2,470.3 L342.9,457.0 L344.6,451.1 L345.3,451.5 L346.3,452.8 L347.9,461.9 L349.1,474.0 L350.4,485.3 L352.1,492.3 L354.6,494.9 L356.0,494.9 L356.0,494.9 L385.3,494.9" fill="none" stroke="#b83a90" stroke-width="0.9" stroke-linejoin="round"/>
<path d="M291.6,503.9 L294.0,503.9 L294.0,502.0 L295.6,500.7 L297.1,499.4 L298.7,498.2 L300.4,494.2 L302.0,489.6 L304.5,478.2 L307.0,468.3 L309.5,463.4 L312.0,461.2 L314.5,463.4 L317.0,473.6 L318.7,479.2 L320.4,484.5 L322.0,488.7 L323.7,492.6 L325.8,495.6 L327.9,497.9 L330.0,500.1 L332.1,502.3 L333.8,503.1 L335.4,503.9 L335.4,503.9 L385.3,503.9 Z" fill="#cde4b6" stroke="none" opacity="0.86"/>
<path d="M291.6,503.9 L294.0,503.9 L294.0,502.0 L295.6,500.7 L297.1,499.4 L298.7,498.2 L300.4,494.2 L302.0,489.6 L304.5,478.2 L307.0,468.3 L309.5,463.4 L312.0,461.2 L314.5,463.4 L317.0,473.6 L318.7,479.2 L320.4,484.5 L322.0,488.7 L323.7,492.6 L325.8,495.6 L327.9,497.9 L330.0,500.1 L332.1,502.3 L333.8,503.1 L335.4,503.9 L335.4,503.9 L385.3,503.9" fill="none" stroke="#74a85c" stroke-width="0.9" stroke-linejoin="round"/>
<path d="M291.6,513.4 L294.0,513.4 L294.0,513.4 L295.6,512.5 L297.1,511.6 L298.7,510.7 L300.3,509.8 L302.0,505.5 L303.7,501.8 L305.4,495.1 L307.0,488.3 L308.7,482.5 L310.4,476.1 L312.9,470.8 L314.5,469.4 L316.2,472.1 L318.7,481.4 L320.4,487.9 L322.0,494.8 L323.7,499.8 L325.4,504.6 L327.0,507.6 L328.7,510.6 L330.4,512.0 L332.1,513.4 L334.0,513.4 L334.0,513.4 L385.3,513.4 Z" fill="#de9e95" stroke="none" opacity="0.86"/>
<path d="M291.6,513.4 L294.0,513.4 L294.0,513.4 L295.6,512.5 L297.1,511.6 L298.7,510.7 L300.3,509.8 L302.0,505.5 L303.7,501.8 L305.4,495.1 L307.0,488.3 L308.7,482.5 L310.4,476.1 L312.9,470.8 L314.5,469.4 L316.2,472.1 L318.7,481.4 L320.4,487.9 L322.0,494.8 L323.7,499.8 L325.4,504.6 L327.0,507.6 L328.7,510.6 L330.4,512.0 L332.1,513.4 L334.0,513.4 L334.0,513.4 L385.3,513.4" fill="none" stroke="#8a1e36" stroke-width="0.9" stroke-linejoin="round"/>
<path d="M291.6,522.1 L302.0,522.1 L302.0,522.1 L303.7,522.1 L305.4,518.5 L307.0,514.8 L309.5,501.5 L311.2,488.1 L312.9,479.9 L314.0,478.0 L315.4,481.3 L317.0,494.8 L318.7,508.0 L320.4,518.1 L322.9,522.1 L324.0,522.1 L324.0,522.1 L385.3,522.1 Z" fill="#e2e2e4" stroke="none" opacity="0.86"/>
<path d="M291.6,522.1 L302.0,522.1 L302.0,522.1 L303.7,522.1 L305.4,518.5 L307.0,514.8 L309.5,501.5 L311.2,488.1 L312.9,479.9 L314.0,478.0 L315.4,481.3 L317.0,494.8 L318.7,508.0 L320.4,518.1 L322.9,522.1 L324.0,522.1 L324.0,522.1 L385.3,522.1" fill="none" stroke="#282828" stroke-width="0.9" stroke-linejoin="round"/>
</g>
<rect x="11.50" y="300.40" width="92.10" height="91.80" fill="none" stroke="#1a1a1a" stroke-width="1.2"/>
<rect x="11.50" y="430.60" width="92.10" height="91.60" fill="none" stroke="#1a1a1a" stroke-width="1.2"/>
<rect x="105.40" y="300.40" width="91.60" height="91.80" fill="none" stroke="#1a1a1a" stroke-width="1.2"/>
<rect x="105.40" y="430.60" width="91.60" height="91.60" fill="none" stroke="#1a1a1a" stroke-width="1.2"/>
<rect x="199.40" y="300.40" width="91.20" height="91.80" fill="none" stroke="#1a1a1a" stroke-width="1.2"/>
<rect x="199.40" y="430.60" width="91.20" height="91.60" fill="none" stroke="#1a1a1a" stroke-width="1.2"/>
<rect x="292.60" y="300.40" width="91.70" height="91.80" fill="none" stroke="#1a1a1a" stroke-width="1.2"/>
<rect x="292.60" y="430.60" width="91.70" height="91.60" fill="none" stroke="#1a1a1a" stroke-width="1.2"/>
<path d="M26.4,392.8v2.8M48.7,392.8v2.8M72.7,392.8v2.8M95.0,392.8v2.8M12.5,392.8v1.6M14.1,392.8v1.6M15.7,392.8v1.6M17.3,392.8v1.6M18.9,392.8v1.6M20.5,392.8v1.6M22.1,392.8v1.6M23.7,392.8v1.6M25.3,392.8v1.6M26.9,392.8v1.6M28.5,392.8v1.6M30.1,392.8v1.6M31.7,392.8v1.6M33.3,392.8v1.6M34.9,392.8v1.6M36.5,392.8v1.6M38.1,392.8v1.6M39.7,392.8v1.6M41.3,392.8v1.6M42.9,392.8v1.6M44.5,392.8v1.6M46.1,392.8v1.6M47.7,392.8v1.6M49.3,392.8v1.6M50.9,392.8v1.6M52.5,392.8v1.6M54.1,392.8v1.6M55.7,392.8v1.6M57.3,392.8v1.6M58.9,392.8v1.6M60.5,392.8v1.6M62.1,392.8v1.6M63.7,392.8v1.6M65.3,392.8v1.6M66.9,392.8v1.6M68.5,392.8v1.6M70.1,392.8v1.6M71.7,392.8v1.6M73.3,392.8v1.6M74.9,392.8v1.6M76.5,392.8v1.6M78.1,392.8v1.6M79.7,392.8v1.6M81.3,392.8v1.6M82.9,392.8v1.6M84.5,392.8v1.6M86.1,392.8v1.6M87.7,392.8v1.6M89.3,392.8v1.6M90.9,392.8v1.6M92.5,392.8v1.6M94.1,392.8v1.6M95.7,392.8v1.6M97.3,392.8v1.6M98.9,392.8v1.6M100.5,392.8v1.6M102.1,392.8v1.6" stroke="#111" stroke-width="0.7" fill="none"/>
<text x="26.4" y="403.0" font-size="5.8" text-anchor="middle" font-weight="normal" fill="#262626" stroke="#262626" stroke-width="0.25">0</text>
<text x="44.8" y="403.0" font-size="5.8" fill="#262626" stroke="#262626" stroke-width="0.25">10<tspan font-size="3.6" dy="-2.6">3</tspan></text>
<text x="68.8" y="403.0" font-size="5.8" fill="#262626" stroke="#262626" stroke-width="0.25">10<tspan font-size="3.6" dy="-2.6">4</tspan></text>
<text x="91.1" y="403.0" font-size="5.8" fill="#262626" stroke="#262626" stroke-width="0.25">10<tspan font-size="3.6" dy="-2.6">5</tspan></text>
<text x="57.5" y="413.8" font-size="9.6" text-anchor="middle" font-weight="normal" fill="#1e1e1e" textLength="34.5" lengthAdjust="spacingAndGlyphs" stroke="#1e1e1e" stroke-width="0.35">CD66abce</text>
<path d="M117.4,392.8v2.8M141.4,392.8v2.8M165.3,392.8v2.8M189.0,392.8v2.8M106.4,392.8v1.6M108.0,392.8v1.6M109.6,392.8v1.6M111.2,392.8v1.6M112.8,392.8v1.6M114.4,392.8v1.6M116.0,392.8v1.6M117.6,392.8v1.6M119.2,392.8v1.6M120.8,392.8v1.6M122.4,392.8v1.6M124.0,392.8v1.6M125.6,392.8v1.6M127.2,392.8v1.6M128.8,392.8v1.6M130.4,392.8v1.6M132.0,392.8v1.6M133.6,392.8v1.6M135.2,392.8v1.6M136.8,392.8v1.6M138.4,392.8v1.6M140.0,392.8v1.6M141.6,392.8v1.6M143.2,392.8v1.6M144.8,392.8v1.6M146.4,392.8v1.6M148.0,392.8v1.6M149.6,392.8v1.6M151.2,392.8v1.6M152.8,392.8v1.6M154.4,392.8v1.6M156.0,392.8v1.6M157.6,392.8v1.6M159.2,392.8v1.6M160.8,392.8v1.6M162.4,392.8v1.6M164.0,392.8v1.6M165.6,392.8v1.6M167.2,392.8v1.6M168.8,392.8v1.6M170.4,392.8v1.6M172.0,392.8v1.6M173.6,392.8v1.6M175.2,392.8v1.6M176.8,392.8v1.6M178.4,392.8v1.6M180.0,392.8v1.6M181.6,392.8v1.6M183.2,392.8v1.6M184.8,392.8v1.6M186.4,392.8v1.6M188.0,392.8v1.6M189.6,392.8v1.6M191.2,392.8v1.6M192.8,392.8v1.6M194.4,392.8v1.6M196.0,392.8v1.6" stroke="#111" stroke-width="0.7" fill="none"/>
<text x="117.4" y="403.0" font-size="5.8" text-anchor="middle" font-weight="normal" fill="#262626" stroke="#262626" stroke-width="0.25">0</text>
<text x="137.5" y="403.0" font-size="5.8" fill="#262626" stroke="#262626" stroke-width="0.25">10<tspan font-size="3.6" dy="-2.6">3</tspan></text>
<text x="161.4" y="403.0" font-size="5.8" fill="#262626" stroke="#262626" stroke-width="0.25">10<tspan font-size="3.6" dy="-2.6">4</tspan></text>
<text x="185.1" y="403.0" font-size="5.8" fill="#262626" stroke="#262626" stroke-width="0.25">10<tspan font-size="3.6" dy="-2.6">5</tspan></text>
<text x="150.9" y="413.8" font-size="9.6" text-anchor="middle" font-weight="normal" fill="#1e1e1e" textLength="18.5" lengthAdjust="spacingAndGlyphs" stroke="#1e1e1e" stroke-width="0.35">CD16</text>
<path d="M219.1,392.8v2.8M230.3,392.8v2.8M258.0,392.8v2.8M280.4,392.8v2.8M200.4,392.8v1.6M202.0,392.8v1.6M203.6,392.8v1.6M205.2,392.8v1.6M206.8,392.8v1.6M208.4,392.8v1.6M210.0,392.8v1.6M211.6,392.8v1.6M213.2,392.8v1.6M214.8,392.8v1.6M216.4,392.8v1.6M218.0,392.8v1.6M219.6,392.8v1.6M221.2,392.8v1.6M222.8,392.8v1.6M224.4,392.8v1.6M226.0,392.8v1.6M227.6,392.8v1.6M229.2,392.8v1.6M230.8,392.8v1.6M232.4,392.8v1.6M234.0,392.8v1.6M235.6,392.8v1.6M237.2,392.8v1.6M238.8,392.8v1.6M240.4,392.8v1.6M242.0,392.8v1.6M243.6,392.8v1.6M245.2,392.8v1.6M246.8,392.8v1.6M248.4,392.8v1.6M250.0,392.8v1.6M251.6,392.8v1.6M253.2,392.8v1.6M254.8,392.8v1.6M256.4,392.8v1.6M258.0,392.8v1.6M259.6,392.8v1.6M261.2,392.8v1.6M262.8,392.8v1.6M264.4,392.8v1.6M266.0,392.8v1.6M267.6,392.8v1.6M269.2,392.8v1.6M270.8,392.8v1.6M272.4,392.8v1.6M274.0,392.8v1.6M275.6,392.8v1.6M277.2,392.8v1.6M278.8,392.8v1.6M280.4,392.8v1.6M282.0,392.8v1.6M283.6,392.8v1.6M285.2,392.8v1.6M286.8,392.8v1.6M288.4,392.8v1.6M290.0,392.8v1.6" stroke="#111" stroke-width="0.7" fill="none"/>
<text x="219.1" y="403.0" font-size="5.8" text-anchor="middle" font-weight="normal" fill="#262626" stroke="#262626" stroke-width="0.25">0</text>
<text x="226.4" y="403.0" font-size="5.8" fill="#262626" stroke="#262626" stroke-width="0.25">10<tspan font-size="3.6" dy="-2.6">3</tspan></text>
<text x="254.1" y="403.0" font-size="5.8" fill="#262626" stroke="#262626" stroke-width="0.25">10<tspan font-size="3.6" dy="-2.6">4</tspan></text>
<text x="276.5" y="403.0" font-size="5.8" fill="#262626" stroke="#262626" stroke-width="0.25">10<tspan font-size="3.6" dy="-2.6">5</tspan></text>
<text x="245.0" y="413.8" font-size="9.6" text-anchor="middle" font-weight="normal" fill="#1e1e1e" textLength="18.5" lengthAdjust="spacingAndGlyphs" stroke="#1e1e1e" stroke-width="0.35">CD14</text>
<path d="M301.1,392.8v2.8M312.3,392.8v2.8M336.0,392.8v2.8M357.0,392.8v2.8M375.5,392.8v2.8M293.6,392.8v1.6M295.2,392.8v1.6M296.8,392.8v1.6M298.4,392.8v1.6M300.0,392.8v1.6M301.6,392.8v1.6M303.2,392.8v1.6M304.8,392.8v1.6M306.4,392.8v1.6M308.0,392.8v1.6M309.6,392.8v1.6M311.2,392.8v1.6M312.8,392.8v1.6M314.4,392.8v1.6M316.0,392.8v1.6M317.6,392.8v1.6M319.2,392.8v1.6M320.8,392.8v1.6M322.4,392.8v1.6M324.0,392.8v1.6M325.6,392.8v1.6M327.2,392.8v1.6M328.8,392.8v1.6M330.4,392.8v1.6M332.0,392.8v1.6M333.6,392.8v1.6M335.2,392.8v1.6M336.8,392.8v1.6M338.4,392.8v1.6M340.0,392.8v1.6M341.6,392.8v1.6M343.2,392.8v1.6M344.8,392.8v1.6M346.4,392.8v1.6M348.0,392.8v1.6M349.6,392.8v1.6M351.2,392.8v1.6M352.8,392.8v1.6M354.4,392.8v1.6M356.0,392.8v1.6M357.6,392.8v1.6M359.2,392.8v1.6M360.8,392.8v1.6M362.4,392.8v1.6M364.0,392.8v1.6M365.6,392.8v1.6M367.2,392.8v1.6M368.8,392.8v1.6M370.4,392.8v1.6M372.0,392.8v1.6M373.6,392.8v1.6M375.2,392.8v1.6M376.8,392.8v1.6M378.4,392.8v1.6M380.0,392.8v1.6M381.6,392.8v1.6M383.2,392.8v1.6" stroke="#111" stroke-width="0.7" fill="none"/>
<text x="301.1" y="403.0" font-size="5.8" text-anchor="middle" font-weight="normal" fill="#262626" stroke="#262626" stroke-width="0.25">0</text>
<text x="308.4" y="403.0" font-size="5.8" fill="#262626" stroke="#262626" stroke-width="0.25">10<tspan font-size="3.6" dy="-2.6">2</tspan></text>
<text x="332.1" y="403.0" font-size="5.8" fill="#262626" stroke="#262626" stroke-width="0.25">10<tspan font-size="3.6" dy="-2.6">3</tspan></text>
<text x="353.1" y="403.0" font-size="5.8" fill="#262626" stroke="#262626" stroke-width="0.25">10<tspan font-size="3.6" dy="-2.6">4</tspan></text>
<text x="371.6" y="403.0" font-size="5.8" fill="#262626" stroke="#262626" stroke-width="0.25">10<tspan font-size="3.6" dy="-2.6">5</tspan></text>
<text x="338.6" y="413.8" font-size="9.6" text-anchor="middle" font-weight="normal" fill="#1e1e1e" textLength="26.8" lengthAdjust="spacingAndGlyphs" stroke="#1e1e1e" stroke-width="0.35">HLA-DR</text>
<path d="M21.2,522.8v2.8M32.8,522.8v2.8M54.6,522.8v2.8M75.1,522.8v2.8M96.3,522.8v2.8M12.5,522.8v1.6M14.1,522.8v1.6M15.7,522.8v1.6M17.3,522.8v1.6M18.9,522.8v1.6M20.5,522.8v1.6M22.1,522.8v1.6M23.7,522.8v1.6M25.3,522.8v1.6M26.9,522.8v1.6M28.5,522.8v1.6M30.1,522.8v1.6M31.7,522.8v1.6M33.3,522.8v1.6M34.9,522.8v1.6M36.5,522.8v1.6M38.1,522.8v1.6M39.7,522.8v1.6M41.3,522.8v1.6M42.9,522.8v1.6M44.5,522.8v1.6M46.1,522.8v1.6M47.7,522.8v1.6M49.3,522.8v1.6M50.9,522.8v1.6M52.5,522.8v1.6M54.1,522.8v1.6M55.7,522.8v1.6M57.3,522.8v1.6M58.9,522.8v1.6M60.5,522.8v1.6M62.1,522.8v1.6M63.7,522.8v1.6M65.3,522.8v1.6M66.9,522.8v1.6M68.5,522.8v1.6M70.1,522.8v1.6M71.7,522.8v1.6M73.3,522.8v1.6M74.9,522.8v1.6M76.5,522.8v1.6M78.1,522.8v1.6M79.7,522.8v1.6M81.3,522.8v1.6M82.9,522.8v1.6M84.5,522.8v1.6M86.1,522.8v1.6M87.7,522.8v1.6M89.3,522.8v1.6M90.9,522.8v1.6M92.5,522.8v1.6M94.1,522.8v1.6M95.7,522.8v1.6M97.3,522.8v1.6M98.9,522.8v1.6M100.5,522.8v1.6M102.1,522.8v1.6" stroke="#111" stroke-width="0.7" fill="none"/>
<text x="21.2" y="533.2" font-size="5.8" text-anchor="middle" font-weight="normal" fill="#262626" stroke="#262626" stroke-width="0.25">0</text>
<text x="28.9" y="533.2" font-size="5.8" fill="#262626" stroke="#262626" stroke-width="0.25">10<tspan font-size="3.6" dy="-2.6">2</tspan></text>
<text x="50.7" y="533.2" font-size="5.8" fill="#262626" stroke="#262626" stroke-width="0.25">10<tspan font-size="3.6" dy="-2.6">3</tspan></text>
<text x="71.2" y="533.2" font-size="5.8" fill="#262626" stroke="#262626" stroke-width="0.25">10<tspan font-size="3.6" dy="-2.6">4</tspan></text>
<text x="92.4" y="533.2" font-size="5.8" fill="#262626" stroke="#262626" stroke-width="0.25">10<tspan font-size="3.6" dy="-2.6">5</tspan></text>
<text x="57.7" y="543.6" font-size="9.6" text-anchor="middle" font-weight="normal" fill="#1e1e1e" textLength="23.0" lengthAdjust="spacingAndGlyphs" stroke="#1e1e1e" stroke-width="0.35">CD123</text>
<path d="M114.8,522.8v2.8M125.4,522.8v2.8M148.2,522.8v2.8M168.1,522.8v2.8M188.9,522.8v2.8M106.4,522.8v1.6M108.0,522.8v1.6M109.6,522.8v1.6M111.2,522.8v1.6M112.8,522.8v1.6M114.4,522.8v1.6M116.0,522.8v1.6M117.6,522.8v1.6M119.2,522.8v1.6M120.8,522.8v1.6M122.4,522.8v1.6M124.0,522.8v1.6M125.6,522.8v1.6M127.2,522.8v1.6M128.8,522.8v1.6M130.4,522.8v1.6M132.0,522.8v1.6M133.6,522.8v1.6M135.2,522.8v1.6M136.8,522.8v1.6M138.4,522.8v1.6M140.0,522.8v1.6M141.6,522.8v1.6M143.2,522.8v1.6M144.8,522.8v1.6M146.4,522.8v1.6M148.0,522.8v1.6M149.6,522.8v1.6M151.2,522.8v1.6M152.8,522.8v1.6M154.4,522.8v1.6M156.0,522.8v1.6M157.6,522.8v1.6M159.2,522.8v1.6M160.8,522.8v1.6M162.4,522.8v1.6M164.0,522.8v1.6M165.6,522.8v1.6M167.2,522.8v1.6M168.8,522.8v1.6M170.4,522.8v1.6M172.0,522.8v1.6M173.6,522.8v1.6M175.2,522.8v1.6M176.8,522.8v1.6M178.4,522.8v1.6M180.0,522.8v1.6M181.6,522.8v1.6M183.2,522.8v1.6M184.8,522.8v1.6M186.4,522.8v1.6M188.0,522.8v1.6M189.6,522.8v1.6M191.2,522.8v1.6M192.8,522.8v1.6M194.4,522.8v1.6M196.0,522.8v1.6" stroke="#111" stroke-width="0.7" fill="none"/>
<text x="114.8" y="533.2" font-size="5.8" text-anchor="middle" font-weight="normal" fill="#262626" stroke="#262626" stroke-width="0.25">0</text>
<text x="121.5" y="533.2" font-size="5.8" fill="#262626" stroke="#262626" stroke-width="0.25">10<tspan font-size="3.6" dy="-2.6">2</tspan></text>
<text x="144.3" y="533.2" font-size="5.8" fill="#262626" stroke="#262626" stroke-width="0.25">10<tspan font-size="3.6" dy="-2.6">3</tspan></text>
<text x="164.2" y="533.2" font-size="5.8" fill="#262626" stroke="#262626" stroke-width="0.25">10<tspan font-size="3.6" dy="-2.6">4</tspan></text>
<text x="185.0" y="533.2" font-size="5.8" fill="#262626" stroke="#262626" stroke-width="0.25">10<tspan font-size="3.6" dy="-2.6">5</tspan></text>
<text x="151.0" y="543.6" font-size="9.6" text-anchor="middle" font-weight="normal" fill="#1e1e1e" textLength="22.9" lengthAdjust="spacingAndGlyphs" stroke="#1e1e1e" stroke-width="0.35">CD11c</text>
<path d="M209.4,522.8v2.8M237.3,522.8v2.8M260.6,522.8v2.8M281.7,522.8v2.8M200.4,522.8v1.6M202.0,522.8v1.6M203.6,522.8v1.6M205.2,522.8v1.6M206.8,522.8v1.6M208.4,522.8v1.6M210.0,522.8v1.6M211.6,522.8v1.6M213.2,522.8v1.6M214.8,522.8v1.6M216.4,522.8v1.6M218.0,522.8v1.6M219.6,522.8v1.6M221.2,522.8v1.6M222.8,522.8v1.6M224.4,522.8v1.6M226.0,522.8v1.6M227.6,522.8v1.6M229.2,522.8v1.6M230.8,522.8v1.6M232.4,522.8v1.6M234.0,522.8v1.6M235.6,522.8v1.6M237.2,522.8v1.6M238.8,522.8v1.6M240.4,522.8v1.6M242.0,522.8v1.6M243.6,522.8v1.6M245.2,522.8v1.6M246.8,522.8v1.6M248.4,522.8v1.6M250.0,522.8v1.6M251.6,522.8v1.6M253.2,522.8v1.6M254.8,522.8v1.6M256.4,522.8v1.6M258.0,522.8v1.6M259.6,522.8v1.6M261.2,522.8v1.6M262.8,522.8v1.6M264.4,522.8v1.6M266.0,522.8v1.6M267.6,522.8v1.6M269.2,522.8v1.6M270.8,522.8v1.6M272.4,522.8v1.6M274.0,522.8v1.6M275.6,522.8v1.6M277.2,522.8v1.6M278.8,522.8v1.6M280.4,522.8v1.6M282.0,522.8v1.6M283.6,522.8v1.6M285.2,522.8v1.6M286.8,522.8v1.6M288.4,522.8v1.6M290.0,522.8v1.6" stroke="#111" stroke-width="0.7" fill="none"/>
<text x="209.4" y="533.2" font-size="5.8" text-anchor="middle" font-weight="normal" fill="#262626" stroke="#262626" stroke-width="0.25">0</text>
<text x="233.4" y="533.2" font-size="5.8" fill="#262626" stroke="#262626" stroke-width="0.25">10<tspan font-size="3.6" dy="-2.6">3</tspan></text>
<text x="256.7" y="533.2" font-size="5.8" fill="#262626" stroke="#262626" stroke-width="0.25">10<tspan font-size="3.6" dy="-2.6">4</tspan></text>
<text x="277.8" y="533.2" font-size="5.8" fill="#262626" stroke="#262626" stroke-width="0.25">10<tspan font-size="3.6" dy="-2.6">5</tspan></text>
<text x="244.8" y="543.6" font-size="9.6" text-anchor="middle" font-weight="normal" fill="#1e1e1e" textLength="28.8" lengthAdjust="spacingAndGlyphs" stroke="#1e1e1e" stroke-width="0.35">BDCA-1</text>
<path d="M300.9,522.8v2.8M312.5,522.8v2.8M334.7,522.8v2.8M354.8,522.8v2.8M376.0,522.8v2.8M293.6,522.8v1.6M295.2,522.8v1.6M296.8,522.8v1.6M298.4,522.8v1.6M300.0,522.8v1.6M301.6,522.8v1.6M303.2,522.8v1.6M304.8,522.8v1.6M306.4,522.8v1.6M308.0,522.8v1.6M309.6,522.8v1.6M311.2,522.8v1.6M312.8,522.8v1.6M314.4,522.8v1.6M316.0,522.8v1.6M317.6,522.8v1.6M319.2,522.8v1.6M320.8,522.8v1.6M322.4,522.8v1.6M324.0,522.8v1.6M325.6,522.8v1.6M327.2,522.8v1.6M328.8,522.8v1.6M330.4,522.8v1.6M332.0,522.8v1.6M333.6,522.8v1.6M335.2,522.8v1.6M336.8,522.8v1.6M338.4,522.8v1.6M340.0,522.8v1.6M341.6,522.8v1.6M343.2,522.8v1.6M344.8,522.8v1.6M346.4,522.8v1.6M348.0,522.8v1.6M349.6,522.8v1.6M351.2,522.8v1.6M352.8,522.8v1.6M354.4,522.8v1.6M356.0,522.8v1.6M357.6,522.8v1.6M359.2,522.8v1.6M360.8,522.8v1.6M362.4,522.8v1.6M364.0,522.8v1.6M365.6,522.8v1.6M367.2,522.8v1.6M368.8,522.8v1.6M370.4,522.8v1.6M372.0,522.8v1.6M373.6,522.8v1.6M375.2,522.8v1.6M376.8,522.8v1.6M378.4,522.8v1.6M380.0,522.8v1.6M381.6,522.8v1.6M383.2,522.8v1.6" stroke="#111" stroke-width="0.7" fill="none"/>
<text x="300.9" y="533.2" font-size="5.8" text-anchor="middle" font-weight="normal" fill="#262626" stroke="#262626" stroke-width="0.25">0</text>
<text x="308.6" y="533.2" font-size="5.8" fill="#262626" stroke="#262626" stroke-width="0.25">10<tspan font-size="3.6" dy="-2.6">2</tspan></text>
<text x="330.8" y="533.2" font-size="5.8" fill="#262626" stroke="#262626" stroke-width="0.25">10<tspan font-size="3.6" dy="-2.6">3</tspan></text>
<text x="350.9" y="533.2" font-size="5.8" fill="#262626" stroke="#262626" stroke-width="0.25">10<tspan font-size="3.6" dy="-2.6">4</tspan></text>
<text x="372.1" y="533.2" font-size="5.8" fill="#262626" stroke="#262626" stroke-width="0.25">10<tspan font-size="3.6" dy="-2.6">5</tspan></text>
<text x="338.0" y="543.6" font-size="9.6" text-anchor="middle" font-weight="normal" fill="#1e1e1e" textLength="27.0" lengthAdjust="spacingAndGlyphs" stroke="#1e1e1e" stroke-width="0.35">BDCA-3</text>
<text x="397.0" y="428.4" font-size="11.0" text-anchor="start" font-weight="bold" fill="#0a0a0a">D</text>
<g clip-path="url(#c17)">
<path d="M420.3,494.3 L456.2,494.3 L456.2,494.3 L459.4,489.5 L461.8,476.5 L463.5,460.4 L465.1,452.3 L466.7,451.5 L467.8,452.3 L469.1,460.4 L470.7,471.7 L472.4,477.4 L474.8,479.0 L477.2,478.2 L479.6,474.9 L481.7,466.8 L483.4,453.9 L485.0,440.9 L486.6,435.3 L487.9,437.7 L489.4,449.0 L491.0,468.5 L492.6,483.0 L495.0,491.9 L497.4,494.3 L497.4,494.3 L514.0,494.3 Z" fill="#1f3b78" stroke="none" opacity="1.0"/>
<path d="M420.3,494.3 L456.2,494.3 L456.2,494.3 L459.4,489.5 L461.8,476.5 L463.5,460.4 L465.1,452.3 L466.7,451.5 L467.8,452.3 L469.1,460.4 L470.7,471.7 L472.4,477.4 L474.8,479.0 L477.2,478.2 L479.6,474.9 L481.7,466.8 L483.4,453.9 L485.0,440.9 L486.6,435.3 L487.9,437.7 L489.4,449.0 L491.0,468.5 L492.6,483.0 L495.0,491.9 L497.4,494.3 L497.4,494.3 L514.0,494.3" fill="none" stroke="#2a4a88" stroke-width="0.9" stroke-linejoin="round"/>
<path d="M420.3,507.0 L452.1,507.0 L452.1,507.0 L454.6,504.1 L457.0,496.0 L459.4,479.8 L461.0,463.6 L462.7,450.7 L463.9,447.4 L465.1,449.0 L466.7,460.4 L468.3,470.1 L470.7,476.5 L474.0,479.0 L476.4,480.6 L478.0,484.6 L480.1,492.7 L482.1,500.8 L484.5,505.7 L486.9,507.0 L486.9,507.0 L514.0,507.0 Z" fill="#5aa63a" stroke="none" opacity="1.0"/>
<path d="M420.3,507.0 L452.1,507.0 L452.1,507.0 L454.6,504.1 L457.0,496.0 L459.4,479.8 L461.0,463.6 L462.7,450.7 L463.9,447.4 L465.1,449.0 L466.7,460.4 L468.3,470.1 L470.7,476.5 L474.0,479.0 L476.4,480.6 L478.0,484.6 L480.1,492.7 L482.1,500.8 L484.5,505.7 L486.9,507.0 L486.9,507.0 L514.0,507.0" fill="none" stroke="#7ab860" stroke-width="0.9" stroke-linejoin="round"/>
<path d="M420.3,519.4 L453.8,519.4 L453.8,519.4 L456.2,516.2 L458.6,507.3 L460.2,496.0 L461.4,483.0 L462.3,468.5 L463.5,461.2 L464.6,462.0 L465.6,473.3 L466.7,492.7 L467.8,508.9 L469.1,515.4 L471.6,516.7 L474.0,517.0 L476.4,519.4 L478.0,519.4 L478.0,519.4 L514.0,519.4 Z" fill="#ffffff" stroke="none" opacity="1.0"/>
<path d="M420.3,519.4 L453.8,519.4 L453.8,519.4 L456.2,516.2 L458.6,507.3 L460.2,496.0 L461.4,483.0 L462.3,468.5 L463.5,461.2 L464.6,462.0 L465.6,473.3 L466.7,492.7 L467.8,508.9 L469.1,515.4 L471.6,516.7 L474.0,517.0 L476.4,519.4 L478.0,519.4 L478.0,519.4 L514.0,519.4" fill="none" stroke="#a02838" stroke-width="0.9" stroke-linejoin="round"/>
</g>
<rect x="421.30" y="430.70" width="91.70" height="88.70" fill="none" stroke="#1a1a1a" stroke-width="1.2"/>
<rect x="424.4" y="434.6" width="8.4" height="4.2" fill="#1f3b78"/>
<rect x="424.4" y="443.0" width="8.4" height="4.2" fill="#4f9a30"/>
<rect x="424.8" y="451.9" width="7.8" height="3.6" fill="#fff" stroke="#a0506a" stroke-width="0.8"/>
<text x="435.6" y="438.9" font-size="6.6" text-anchor="start" font-weight="normal" fill="#2a2a2a" stroke="#2a2a2a" stroke-width="0.2">48 h</text>
<text x="435.6" y="447.3" font-size="6.6" text-anchor="start" font-weight="normal" fill="#2a2a2a" stroke="#2a2a2a" stroke-width="0.2">30 h</text>
<text x="435.6" y="455.8" font-size="6.6" text-anchor="start" font-weight="normal" fill="#2a2a2a" stroke="#2a2a2a" stroke-width="0.2">4 h</text>
<path d="M425.0,520.0v2.6M435.0,520.0v2.6M457.5,520.0v2.6M479.3,520.0v2.6M500.0,520.0v2.6M422.3,520.0v1.4M424.5,520.0v1.4M426.7,520.0v1.4M428.9,520.0v1.4M431.1,520.0v1.4M433.3,520.0v1.4M435.5,520.0v1.4M437.7,520.0v1.4M439.9,520.0v1.4M442.1,520.0v1.4M444.3,520.0v1.4M446.5,520.0v1.4M448.7,520.0v1.4M450.9,520.0v1.4M453.1,520.0v1.4M455.3,520.0v1.4M457.5,520.0v1.4M459.7,520.0v1.4M461.9,520.0v1.4M464.1,520.0v1.4M466.3,520.0v1.4M468.5,520.0v1.4M470.7,520.0v1.4M472.9,520.0v1.4M475.1,520.0v1.4M477.3,520.0v1.4M479.5,520.0v1.4M481.7,520.0v1.4M483.9,520.0v1.4M486.1,520.0v1.4M488.3,520.0v1.4M490.5,520.0v1.4M492.7,520.0v1.4M494.9,520.0v1.4M497.1,520.0v1.4M499.3,520.0v1.4M501.5,520.0v1.4M503.7,520.0v1.4M505.9,520.0v1.4M508.1,520.0v1.4M510.3,520.0v1.4M512.5,520.0v1.4" stroke="#222" stroke-width="0.7" fill="none"/>
<text x="425.0" y="529.6" font-size="5.9" text-anchor="middle" font-weight="normal" fill="#262626" stroke="#262626" stroke-width="0.25">0</text>
<text x="431.0" y="529.6" font-size="5.9" fill="#262626" stroke="#262626" stroke-width="0.25">10<tspan font-size="3.7" dy="-2.7">2</tspan></text>
<text x="453.5" y="529.6" font-size="5.9" fill="#262626" stroke="#262626" stroke-width="0.25">10<tspan font-size="3.7" dy="-2.7">3</tspan></text>
<text x="475.3" y="529.6" font-size="5.9" fill="#262626" stroke="#262626" stroke-width="0.25">10<tspan font-size="3.7" dy="-2.7">4</tspan></text>
<text x="496.0" y="529.6" font-size="5.9" fill="#262626" stroke="#262626" stroke-width="0.25">10<tspan font-size="3.7" dy="-2.7">5</tspan></text>
<text x="467.2" y="540.2" font-size="9.6" text-anchor="middle" font-weight="normal" fill="#1e1e1e" textLength="31.7" lengthAdjust="spacingAndGlyphs" stroke="#1e1e1e" stroke-width="0.35">Live/dead</text>
<rect x="50.4" y="555.4" width="12.0" height="6.2" fill="#b9bde2" stroke="#5a62a2" stroke-width="0.9"/>
<text x="65.2" y="560.7" font-size="6.6" fill="#2e2e2e" stroke="#2e2e2e" stroke-width="0.2" textLength="46.4" lengthAdjust="spacingAndGlyphs">BDCA-1<tspan font-size="3.8" dy="-2.2">+</tspan><tspan dy="2.2"> MDCs</tspan></text>
<rect x="50.4" y="567.3" width="12.0" height="6.2" fill="#d9ecc9" stroke="#8dc070" stroke-width="0.9"/>
<text x="65.2" y="572.6" font-size="6.6" fill="#2e2e2e" stroke="#2e2e2e" stroke-width="0.2" textLength="40.5" lengthAdjust="spacingAndGlyphs">CD123<tspan font-size="3.8" dy="-2.2">+</tspan><tspan dy="2.2"> PDCs</tspan></text>
<rect x="153.0" y="555.2" width="12.0" height="6.2" fill="#fbd9b0" stroke="#e3a050" stroke-width="0.9"/>
<text x="167.8" y="560.5" font-size="6.6" fill="#2e2e2e" stroke="#2e2e2e" stroke-width="0.2" textLength="52.9" lengthAdjust="spacingAndGlyphs">CD16<tspan font-size="3.8" dy="-2.2">+</tspan><tspan dy="2.2"> Monocytes</tspan></text>
<rect x="153.0" y="567.3" width="12.0" height="6.2" fill="#ebb0ad" stroke="#b02a3a" stroke-width="0.9"/>
<text x="167.8" y="572.6" font-size="6.6" fill="#2e2e2e" stroke="#2e2e2e" stroke-width="0.2" textLength="52.9" lengthAdjust="spacingAndGlyphs">CD14<tspan font-size="3.8" dy="-2.2">+</tspan><tspan dy="2.2"> Monocytes</tspan></text>
<rect x="259.8" y="554.5" width="12.0" height="6.2" fill="#f2c2e0" stroke="#c0307e" stroke-width="0.9"/>
<text x="274.6" y="559.8" font-size="6.6" fill="#2e2e2e" stroke="#2e2e2e" stroke-width="0.2" textLength="44.6" lengthAdjust="spacingAndGlyphs">BDCA-3<tspan font-size="3.8" dy="-2.2">+</tspan><tspan dy="2.2"> MDCs</tspan></text>
<rect x="259.8" y="567.1" width="12.0" height="6.2" fill="#ececec" stroke="#444444" stroke-width="0.9"/>
<text x="274.6" y="572.4" font-size="6.6" fill="#2e2e2e" stroke="#2e2e2e" stroke-width="0.2" textLength="62.7" lengthAdjust="spacingAndGlyphs">CD66abce<tspan font-size="3.8" dy="-2.2">+</tspan><tspan dy="2.2"> Neutrophils</tspan></text>
<path d="M0.6,0.5 H519.4 V580.2 H0.6 Z" fill="none" stroke="#000" stroke-width="1.4"/>
</svg>
</body></html>
